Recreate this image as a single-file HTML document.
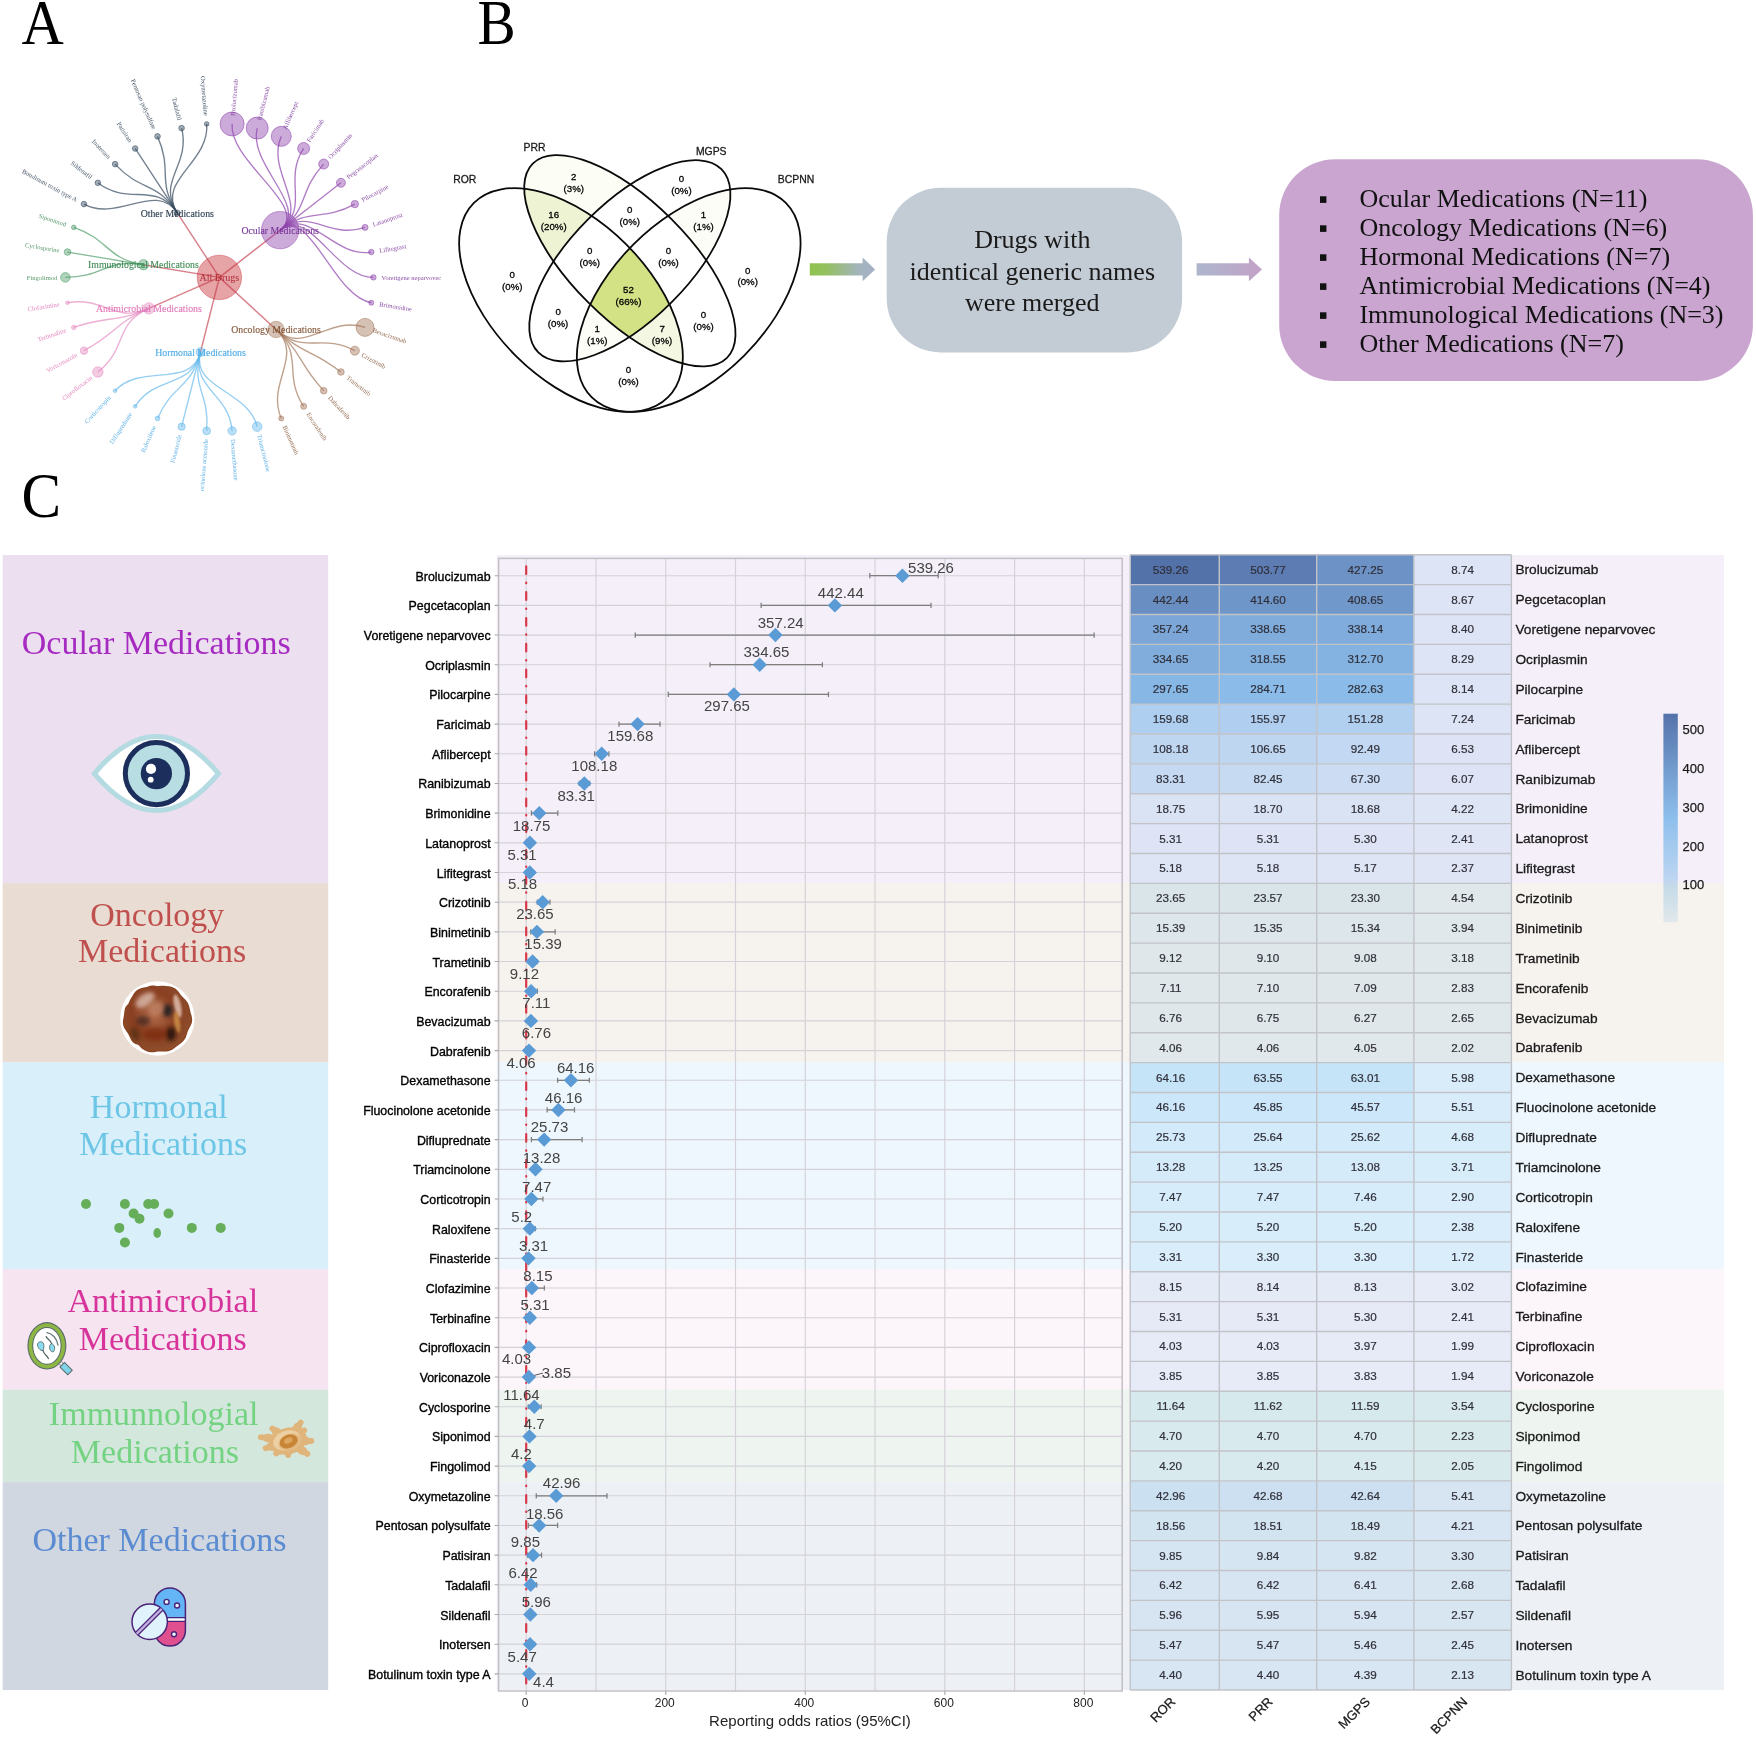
<!DOCTYPE html>
<html lang="en"><head><meta charset="utf-8"><title>Figure</title>
<style>html,body{margin:0;padding:0;background:#fff}svg{display:block;filter:blur(0.55px)}</style></head>
<body>
<svg width="1756" height="1739" viewBox="0 0 1756 1739">
<rect width="1756" height="1739" fill="#fff"/>
<defs><filter id="tblur" x="-5%" y="-5%" width="110%" height="110%"><feGaussianBlur stdDeviation="0.45"/></filter></defs>
<text transform="translate(21.6 43.5) scale(0.977 1.046)" font-family='"Liberation Serif", serif' font-size="60" fill="#000">A</text>
<text transform="translate(477.6 43.5) scale(0.955 1.046)" font-family='"Liberation Serif", serif' font-size="60" fill="#000">B</text>
<text transform="translate(21.6 516.5) scale(0.99 1.046)" font-family='"Liberation Serif", serif' font-size="60" fill="#000">C</text>
<defs><clipPath id="tclip"><rect x="0" y="50" width="460" height="440.8"/></clipPath></defs><g clip-path="url(#tclip)"><g filter="url(#tblur)"><line x1="219.4" y1="277.4" x2="280.16" y2="230.11" stroke="#c03644" stroke-opacity="0.62" stroke-width="1.45"/>
<line x1="219.4" y1="277.4" x2="276.05" y2="329.55" stroke="#c03644" stroke-opacity="0.62" stroke-width="1.45"/>
<line x1="219.4" y1="277.4" x2="200.5" y2="352.04" stroke="#c03644" stroke-opacity="0.62" stroke-width="1.45"/>
<line x1="219.4" y1="277.4" x2="148.89" y2="308.33" stroke="#c03644" stroke-opacity="0.62" stroke-width="1.45"/>
<line x1="219.4" y1="277.4" x2="143.45" y2="264.73" stroke="#c03644" stroke-opacity="0.62" stroke-width="1.45"/>
<line x1="219.4" y1="277.4" x2="177.28" y2="212.94" stroke="#c03644" stroke-opacity="0.62" stroke-width="1.45"/>
<path d="M280.16,230.11 C310.55,206.46 334.9,277.4 373.4,277.4" fill="none" stroke="#8e44ad" stroke-opacity="0.7" stroke-width="1.35"/>
<path d="M280.16,230.11 C310.55,206.46 333.32,296.41 371.3,302.75" fill="none" stroke="#8e44ad" stroke-opacity="0.7" stroke-width="1.35"/>
<path d="M276.05,329.55 C304.38,355.63 328.64,314.9 365.06,327.4" fill="none" stroke="#a3765a" stroke-opacity="0.7" stroke-width="1.35"/>
<path d="M276.05,329.55 C304.38,355.63 320.98,332.37 354.84,350.7" fill="none" stroke="#a3765a" stroke-opacity="0.7" stroke-width="1.35"/>
<path d="M276.05,329.55 C304.38,355.63 310.55,348.34 340.93,371.99" fill="none" stroke="#a3765a" stroke-opacity="0.7" stroke-width="1.35"/>
<path d="M276.05,329.55 C304.38,355.63 297.63,362.38 323.7,390.7" fill="none" stroke="#a3765a" stroke-opacity="0.7" stroke-width="1.35"/>
<path d="M276.05,329.55 C304.38,355.63 282.57,374.09 303.63,406.32" fill="none" stroke="#a3765a" stroke-opacity="0.7" stroke-width="1.35"/>
<path d="M276.05,329.55 C304.38,355.63 265.8,383.17 281.26,418.43" fill="none" stroke="#a3765a" stroke-opacity="0.7" stroke-width="1.35"/>
<path d="M200.5,352.04 C191.05,389.37 247.75,389.37 257.2,426.69" fill="none" stroke="#66b9ec" stroke-opacity="0.7" stroke-width="1.35"/>
<path d="M200.5,352.04 C191.05,389.37 228.94,392.51 232.12,430.87" fill="none" stroke="#66b9ec" stroke-opacity="0.7" stroke-width="1.35"/>
<path d="M200.5,352.04 C191.05,389.37 209.86,392.51 206.68,430.87" fill="none" stroke="#66b9ec" stroke-opacity="0.7" stroke-width="1.35"/>
<path d="M200.5,352.04 C191.05,389.37 191.05,389.37 181.6,426.69" fill="none" stroke="#66b9ec" stroke-opacity="0.7" stroke-width="1.35"/>
<path d="M200.5,352.04 C191.05,389.37 173,383.17 157.54,418.43" fill="none" stroke="#66b9ec" stroke-opacity="0.7" stroke-width="1.35"/>
<path d="M200.5,352.04 C191.05,389.37 156.23,374.09 135.17,406.32" fill="none" stroke="#66b9ec" stroke-opacity="0.7" stroke-width="1.35"/>
<path d="M200.5,352.04 C191.05,389.37 141.17,362.38 115.1,390.7" fill="none" stroke="#66b9ec" stroke-opacity="0.7" stroke-width="1.35"/>
<path d="M148.89,308.33 C113.63,323.8 128.25,348.34 97.87,371.99" fill="none" stroke="#e58cc2" stroke-opacity="0.7" stroke-width="1.35"/>
<path d="M148.89,308.33 C113.63,323.8 117.82,332.37 83.96,350.7" fill="none" stroke="#e58cc2" stroke-opacity="0.7" stroke-width="1.35"/>
<path d="M148.89,308.33 C113.63,323.8 110.16,314.9 73.74,327.4" fill="none" stroke="#e58cc2" stroke-opacity="0.7" stroke-width="1.35"/>
<path d="M148.89,308.33 C113.63,323.8 105.48,296.41 67.5,302.75" fill="none" stroke="#e58cc2" stroke-opacity="0.7" stroke-width="1.35"/>
<path d="M143.45,264.73 C105.48,258.39 103.9,277.4 65.4,277.4" fill="none" stroke="#4f9d69" stroke-opacity="0.7" stroke-width="1.35"/>
<path d="M143.45,264.73 C105.48,258.39 105.48,258.39 67.5,252.05" fill="none" stroke="#4f9d69" stroke-opacity="0.7" stroke-width="1.35"/>
<path d="M143.45,264.73 C105.48,258.39 110.16,239.9 73.74,227.4" fill="none" stroke="#4f9d69" stroke-opacity="0.7" stroke-width="1.35"/>
<path d="M177.28,212.94 C156.23,180.71 117.82,222.43 83.96,204.1" fill="none" stroke="#34495e" stroke-opacity="0.7" stroke-width="1.35"/>
<path d="M177.28,212.94 C156.23,180.71 128.25,206.46 97.87,182.81" fill="none" stroke="#34495e" stroke-opacity="0.7" stroke-width="1.35"/>
<path d="M177.28,212.94 C156.23,180.71 141.17,192.42 115.1,164.1" fill="none" stroke="#34495e" stroke-opacity="0.7" stroke-width="1.35"/>
<path d="M177.28,212.94 C156.23,180.71 156.23,180.71 135.17,148.48" fill="none" stroke="#34495e" stroke-opacity="0.7" stroke-width="1.35"/>
<path d="M177.28,212.94 C156.23,180.71 173,171.63 157.54,136.37" fill="none" stroke="#34495e" stroke-opacity="0.7" stroke-width="1.35"/>
<path d="M177.28,212.94 C156.23,180.71 191.05,165.43 181.6,128.11" fill="none" stroke="#34495e" stroke-opacity="0.7" stroke-width="1.35"/>
<path d="M177.28,212.94 C156.23,180.71 209.86,162.29 206.68,123.93" fill="none" stroke="#34495e" stroke-opacity="0.7" stroke-width="1.35"/>
<path d="M280.16,230.11 C310.55,206.46 228.94,162.29 232.12,123.93" fill="none" stroke="#8e44ad" stroke-opacity="0.7" stroke-width="1.35"/>
<path d="M280.16,230.11 C310.55,206.46 247.75,165.43 257.2,128.11" fill="none" stroke="#8e44ad" stroke-opacity="0.7" stroke-width="1.35"/>
<path d="M280.16,230.11 C310.55,206.46 265.8,171.63 281.26,136.37" fill="none" stroke="#8e44ad" stroke-opacity="0.7" stroke-width="1.35"/>
<path d="M280.16,230.11 C310.55,206.46 282.57,180.71 303.63,148.48" fill="none" stroke="#8e44ad" stroke-opacity="0.7" stroke-width="1.35"/>
<path d="M280.16,230.11 C310.55,206.46 297.63,192.42 323.7,164.1" fill="none" stroke="#8e44ad" stroke-opacity="0.7" stroke-width="1.35"/>
<path d="M280.16,230.11 C310.55,206.46 310.55,206.46 340.93,182.81" fill="none" stroke="#8e44ad" stroke-opacity="0.7" stroke-width="1.35"/>
<path d="M280.16,230.11 C310.55,206.46 320.98,222.43 354.84,204.1" fill="none" stroke="#8e44ad" stroke-opacity="0.7" stroke-width="1.35"/>
<path d="M280.16,230.11 C310.55,206.46 328.64,239.9 365.06,227.4" fill="none" stroke="#8e44ad" stroke-opacity="0.7" stroke-width="1.35"/>
<path d="M280.16,230.11 C310.55,206.46 333.32,258.39 371.3,252.05" fill="none" stroke="#8e44ad" stroke-opacity="0.7" stroke-width="1.35"/>
<circle cx="219.4" cy="277.4" r="22.2" fill="#c8323c" fill-opacity="0.45" stroke="#c8323c" stroke-opacity="0.55" stroke-width="0.8"/>
<circle cx="280.16" cy="230.11" r="18.7" fill="#8e44ad" fill-opacity="0.45" stroke="#8e44ad" stroke-opacity="0.6" stroke-width="0.8"/>
<circle cx="276.05" cy="329.55" r="8.2" fill="#a3765a" fill-opacity="0.45" stroke="#a3765a" stroke-opacity="0.6" stroke-width="0.8"/>
<circle cx="200.5" cy="352.04" r="4.5" fill="#66b9ec" fill-opacity="0.45" stroke="#66b9ec" stroke-opacity="0.6" stroke-width="0.8"/>
<circle cx="148.89" cy="308.33" r="5.7" fill="#e58cc2" fill-opacity="0.45" stroke="#e58cc2" stroke-opacity="0.6" stroke-width="0.8"/>
<circle cx="143.45" cy="264.73" r="5.2" fill="#4f9d69" fill-opacity="0.45" stroke="#4f9d69" stroke-opacity="0.6" stroke-width="0.8"/>
<circle cx="177.28" cy="212.94" r="3" fill="#34495e" fill-opacity="0.45" stroke="#34495e" stroke-opacity="0.6" stroke-width="0.8"/>
<circle cx="373.4" cy="277.4" r="2.7" fill="#8e44ad" fill-opacity="0.45" stroke="#8e44ad" stroke-opacity="0.7" stroke-width="0.8"/>
<circle cx="371.3" cy="302.75" r="2.5" fill="#8e44ad" fill-opacity="0.45" stroke="#8e44ad" stroke-opacity="0.7" stroke-width="0.8"/>
<circle cx="365.06" cy="327.4" r="9" fill="#a3765a" fill-opacity="0.45" stroke="#a3765a" stroke-opacity="0.7" stroke-width="0.8"/>
<circle cx="354.84" cy="350.7" r="4.5" fill="#a3765a" fill-opacity="0.45" stroke="#a3765a" stroke-opacity="0.7" stroke-width="0.8"/>
<circle cx="340.93" cy="371.99" r="3.3" fill="#a3765a" fill-opacity="0.45" stroke="#a3765a" stroke-opacity="0.7" stroke-width="0.8"/>
<circle cx="323.7" cy="390.7" r="3.3" fill="#a3765a" fill-opacity="0.45" stroke="#a3765a" stroke-opacity="0.7" stroke-width="0.8"/>
<circle cx="303.63" cy="406.32" r="3" fill="#a3765a" fill-opacity="0.45" stroke="#a3765a" stroke-opacity="0.7" stroke-width="0.8"/>
<circle cx="281.26" cy="418.43" r="2.5" fill="#a3765a" fill-opacity="0.45" stroke="#a3765a" stroke-opacity="0.7" stroke-width="0.8"/>
<circle cx="257.2" cy="426.69" r="4.8" fill="#66b9ec" fill-opacity="0.45" stroke="#66b9ec" stroke-opacity="0.7" stroke-width="0.8"/>
<circle cx="232.12" cy="430.87" r="4.2" fill="#66b9ec" fill-opacity="0.45" stroke="#66b9ec" stroke-opacity="0.7" stroke-width="0.8"/>
<circle cx="206.68" cy="430.87" r="3.9" fill="#66b9ec" fill-opacity="0.45" stroke="#66b9ec" stroke-opacity="0.7" stroke-width="0.8"/>
<circle cx="181.6" cy="426.69" r="3.6" fill="#66b9ec" fill-opacity="0.45" stroke="#66b9ec" stroke-opacity="0.7" stroke-width="0.8"/>
<circle cx="157.54" cy="418.43" r="2.4" fill="#66b9ec" fill-opacity="0.45" stroke="#66b9ec" stroke-opacity="0.7" stroke-width="0.8"/>
<circle cx="135.17" cy="406.32" r="1.8" fill="#66b9ec" fill-opacity="0.45" stroke="#66b9ec" stroke-opacity="0.7" stroke-width="0.8"/>
<circle cx="115.1" cy="390.7" r="1.8" fill="#66b9ec" fill-opacity="0.45" stroke="#66b9ec" stroke-opacity="0.7" stroke-width="0.8"/>
<circle cx="97.87" cy="371.99" r="5.2" fill="#e58cc2" fill-opacity="0.45" stroke="#e58cc2" stroke-opacity="0.7" stroke-width="0.8"/>
<circle cx="83.96" cy="350.7" r="3.7" fill="#e58cc2" fill-opacity="0.45" stroke="#e58cc2" stroke-opacity="0.7" stroke-width="0.8"/>
<circle cx="73.74" cy="327.4" r="2.2" fill="#e58cc2" fill-opacity="0.45" stroke="#e58cc2" stroke-opacity="0.7" stroke-width="0.8"/>
<circle cx="67.5" cy="302.75" r="1.8" fill="#e58cc2" fill-opacity="0.45" stroke="#e58cc2" stroke-opacity="0.7" stroke-width="0.8"/>
<circle cx="65.4" cy="277.4" r="4.8" fill="#4f9d69" fill-opacity="0.45" stroke="#4f9d69" stroke-opacity="0.7" stroke-width="0.8"/>
<circle cx="67.5" cy="252.05" r="3.3" fill="#4f9d69" fill-opacity="0.45" stroke="#4f9d69" stroke-opacity="0.7" stroke-width="0.8"/>
<circle cx="73.74" cy="227.4" r="2.3" fill="#4f9d69" fill-opacity="0.45" stroke="#4f9d69" stroke-opacity="0.7" stroke-width="0.8"/>
<circle cx="83.96" cy="204.1" r="2.8" fill="#34495e" fill-opacity="0.45" stroke="#34495e" stroke-opacity="0.7" stroke-width="0.8"/>
<circle cx="97.87" cy="182.81" r="2.8" fill="#34495e" fill-opacity="0.45" stroke="#34495e" stroke-opacity="0.7" stroke-width="0.8"/>
<circle cx="115.1" cy="164.1" r="2.8" fill="#34495e" fill-opacity="0.45" stroke="#34495e" stroke-opacity="0.7" stroke-width="0.8"/>
<circle cx="135.17" cy="148.48" r="2.8" fill="#34495e" fill-opacity="0.45" stroke="#34495e" stroke-opacity="0.7" stroke-width="0.8"/>
<circle cx="157.54" cy="136.37" r="2.8" fill="#34495e" fill-opacity="0.45" stroke="#34495e" stroke-opacity="0.7" stroke-width="0.8"/>
<circle cx="181.6" cy="128.11" r="2.8" fill="#34495e" fill-opacity="0.45" stroke="#34495e" stroke-opacity="0.7" stroke-width="0.8"/>
<circle cx="206.68" cy="123.93" r="2.3" fill="#34495e" fill-opacity="0.45" stroke="#34495e" stroke-opacity="0.7" stroke-width="0.8"/>
<circle cx="232.12" cy="123.93" r="12" fill="#8e44ad" fill-opacity="0.45" stroke="#8e44ad" stroke-opacity="0.7" stroke-width="0.8"/>
<circle cx="257.2" cy="128.11" r="11" fill="#8e44ad" fill-opacity="0.45" stroke="#8e44ad" stroke-opacity="0.7" stroke-width="0.8"/>
<circle cx="281.26" cy="136.37" r="10" fill="#8e44ad" fill-opacity="0.45" stroke="#8e44ad" stroke-opacity="0.7" stroke-width="0.8"/>
<circle cx="303.63" cy="148.48" r="6" fill="#8e44ad" fill-opacity="0.45" stroke="#8e44ad" stroke-opacity="0.7" stroke-width="0.8"/>
<circle cx="323.7" cy="164.1" r="5" fill="#8e44ad" fill-opacity="0.45" stroke="#8e44ad" stroke-opacity="0.7" stroke-width="0.8"/>
<circle cx="340.93" cy="182.81" r="4.5" fill="#8e44ad" fill-opacity="0.45" stroke="#8e44ad" stroke-opacity="0.7" stroke-width="0.8"/>
<circle cx="354.84" cy="204.1" r="3.7" fill="#8e44ad" fill-opacity="0.45" stroke="#8e44ad" stroke-opacity="0.7" stroke-width="0.8"/>
<circle cx="365.06" cy="227.4" r="3" fill="#8e44ad" fill-opacity="0.45" stroke="#8e44ad" stroke-opacity="0.7" stroke-width="0.8"/>
<circle cx="371.3" cy="252.05" r="2.7" fill="#8e44ad" fill-opacity="0.45" stroke="#8e44ad" stroke-opacity="0.7" stroke-width="0.8"/>
<text x="219.4" y="280.6" text-anchor="middle" font-family='"Liberation Serif", serif' font-size="10" fill="#a81e28" fill-opacity="0.9">All Drugs</text>
<text x="280.16" y="233.71" text-anchor="middle" font-family='"Liberation Serif", serif' font-size="9.8" fill="#742f94" fill-opacity="0.95" stroke="#742f94" stroke-width="0.2" stroke-opacity="0.6">Ocular Medications</text>
<text x="276.05" y="333.15" text-anchor="middle" font-family='"Liberation Serif", serif' font-size="9.8" fill="#7f4f30" fill-opacity="0.95" stroke="#7f4f30" stroke-width="0.2" stroke-opacity="0.6">Oncology Medications</text>
<text x="200.5" y="355.64" text-anchor="middle" font-family='"Liberation Serif", serif' font-size="9.8" fill="#45a6e4" fill-opacity="0.95" stroke="#45a6e4" stroke-width="0.2" stroke-opacity="0.6">Hormonal Medications</text>
<text x="148.89" y="311.93" text-anchor="middle" font-family='"Liberation Serif", serif' font-size="9.8" fill="#e070b4" fill-opacity="0.95" stroke="#e070b4" stroke-width="0.2" stroke-opacity="0.6">Antimicrobial Medications</text>
<text x="143.45" y="268.33" text-anchor="middle" font-family='"Liberation Serif", serif' font-size="9.8" fill="#38864f" fill-opacity="0.95" stroke="#38864f" stroke-width="0.2" stroke-opacity="0.6">Immunological Medications</text>
<text x="177.28" y="216.54" text-anchor="middle" font-family='"Liberation Serif", serif' font-size="9.8" fill="#22344a" fill-opacity="0.95" stroke="#22344a" stroke-width="0.2" stroke-opacity="0.6">Other Medications</text>
<text transform="translate(381.6 277.4) rotate(0)" y="2.1" text-anchor="start" font-family='"Liberation Serif", serif' font-size="6.5" fill="#742f94" fill-opacity="0.85">Voretigene neparvovec</text>
<text transform="translate(379.39 304.1) rotate(9.47)" y="2.1" text-anchor="start" font-family='"Liberation Serif", serif' font-size="6.5" fill="#742f94" fill-opacity="0.85">Brimonidine</text>
<text transform="translate(372.81 330.07) rotate(18.95)" y="2.1" text-anchor="start" font-family='"Liberation Serif", serif' font-size="6.5" fill="#7f4f30" fill-opacity="0.85">Bevacizumab</text>
<text transform="translate(362.05 354.6) rotate(28.42)" y="2.1" text-anchor="start" font-family='"Liberation Serif", serif' font-size="6.5" fill="#7f4f30" fill-opacity="0.85">Crizotinib</text>
<text transform="translate(347.4 377.03) rotate(37.89)" y="2.1" text-anchor="start" font-family='"Liberation Serif", serif' font-size="6.5" fill="#7f4f30" fill-opacity="0.85">Trametinib</text>
<text transform="translate(329.26 396.73) rotate(47.37)" y="2.1" text-anchor="start" font-family='"Liberation Serif", serif' font-size="6.5" fill="#7f4f30" fill-opacity="0.85">Dabrafenib</text>
<text transform="translate(308.11 413.19) rotate(56.84)" y="2.1" text-anchor="start" font-family='"Liberation Serif", serif' font-size="6.5" fill="#7f4f30" fill-opacity="0.85">Encorafenib</text>
<text transform="translate(284.55 425.94) rotate(66.32)" y="2.1" text-anchor="start" font-family='"Liberation Serif", serif' font-size="6.5" fill="#7f4f30" fill-opacity="0.85">Binimetinib</text>
<text transform="translate(259.22 434.64) rotate(75.79)" y="2.1" text-anchor="start" font-family='"Liberation Serif", serif' font-size="6.5" fill="#45a6e4" fill-opacity="0.85">Triamcinolone</text>
<text transform="translate(232.79 439.05) rotate(85.26)" y="2.1" text-anchor="start" font-family='"Liberation Serif", serif' font-size="6.5" fill="#45a6e4" fill-opacity="0.85">Dexamethasone</text>
<text transform="translate(206.01 439.05) rotate(-85.26)" y="2.1" text-anchor="end" font-family='"Liberation Serif", serif' font-size="6.5" fill="#45a6e4" fill-opacity="0.85">Fluocinolone acetonide</text>
<text transform="translate(179.58 434.64) rotate(-75.79)" y="2.1" text-anchor="end" font-family='"Liberation Serif", serif' font-size="6.5" fill="#45a6e4" fill-opacity="0.85">Finasteride</text>
<text transform="translate(154.25 425.94) rotate(-66.32)" y="2.1" text-anchor="end" font-family='"Liberation Serif", serif' font-size="6.5" fill="#45a6e4" fill-opacity="0.85">Raloxifene</text>
<text transform="translate(130.69 413.19) rotate(-56.84)" y="2.1" text-anchor="end" font-family='"Liberation Serif", serif' font-size="6.5" fill="#45a6e4" fill-opacity="0.85">Difluprednate</text>
<text transform="translate(109.54 396.73) rotate(-47.37)" y="2.1" text-anchor="end" font-family='"Liberation Serif", serif' font-size="6.5" fill="#45a6e4" fill-opacity="0.85">Corticotropin</text>
<text transform="translate(91.4 377.03) rotate(-37.89)" y="2.1" text-anchor="end" font-family='"Liberation Serif", serif' font-size="6.5" fill="#e070b4" fill-opacity="0.85">Ciprofloxacin</text>
<text transform="translate(76.75 354.6) rotate(-28.42)" y="2.1" text-anchor="end" font-family='"Liberation Serif", serif' font-size="6.5" fill="#e070b4" fill-opacity="0.85">Voriconazole</text>
<text transform="translate(65.99 330.07) rotate(-18.95)" y="2.1" text-anchor="end" font-family='"Liberation Serif", serif' font-size="6.5" fill="#e070b4" fill-opacity="0.85">Terbinafine</text>
<text transform="translate(59.41 304.1) rotate(-9.47)" y="2.1" text-anchor="end" font-family='"Liberation Serif", serif' font-size="6.5" fill="#e070b4" fill-opacity="0.85">Clofazimine</text>
<text transform="translate(57.2 277.4) rotate(0)" y="2.1" text-anchor="end" font-family='"Liberation Serif", serif' font-size="6.5" fill="#38864f" fill-opacity="0.85">Fingolimod</text>
<text transform="translate(59.41 250.7) rotate(9.47)" y="2.1" text-anchor="end" font-family='"Liberation Serif", serif' font-size="6.5" fill="#38864f" fill-opacity="0.85">Cyclosporine</text>
<text transform="translate(65.99 224.73) rotate(18.95)" y="2.1" text-anchor="end" font-family='"Liberation Serif", serif' font-size="6.5" fill="#38864f" fill-opacity="0.85">Siponimod</text>
<text transform="translate(76.75 200.2) rotate(28.42)" y="2.1" text-anchor="end" font-family='"Liberation Serif", serif' font-size="6.5" fill="#22344a" fill-opacity="0.85">Botulinum toxin type A</text>
<text transform="translate(91.4 177.77) rotate(37.89)" y="2.1" text-anchor="end" font-family='"Liberation Serif", serif' font-size="6.5" fill="#22344a" fill-opacity="0.85">Sildenafil</text>
<text transform="translate(109.54 158.07) rotate(47.37)" y="2.1" text-anchor="end" font-family='"Liberation Serif", serif' font-size="6.5" fill="#22344a" fill-opacity="0.85">Inotersen</text>
<text transform="translate(130.69 141.61) rotate(56.84)" y="2.1" text-anchor="end" font-family='"Liberation Serif", serif' font-size="6.5" fill="#22344a" fill-opacity="0.85">Patisiran</text>
<text transform="translate(154.25 128.86) rotate(66.32)" y="2.1" text-anchor="end" font-family='"Liberation Serif", serif' font-size="6.5" fill="#22344a" fill-opacity="0.85">Pentosan polysulfate</text>
<text transform="translate(179.58 120.16) rotate(75.79)" y="2.1" text-anchor="end" font-family='"Liberation Serif", serif' font-size="6.5" fill="#22344a" fill-opacity="0.85">Tadalafil</text>
<text transform="translate(206.01 115.75) rotate(85.26)" y="2.1" text-anchor="end" font-family='"Liberation Serif", serif' font-size="6.5" fill="#22344a" fill-opacity="0.85">Oxymetazoline</text>
<text transform="translate(232.79 115.75) rotate(274.74)" y="2.1" text-anchor="start" font-family='"Liberation Serif", serif' font-size="6.5" fill="#742f94" fill-opacity="0.85">Brolucizumab</text>
<text transform="translate(259.22 120.16) rotate(284.21)" y="2.1" text-anchor="start" font-family='"Liberation Serif", serif' font-size="6.5" fill="#742f94" fill-opacity="0.85">Ranibizumab</text>
<text transform="translate(284.55 128.86) rotate(293.68)" y="2.1" text-anchor="start" font-family='"Liberation Serif", serif' font-size="6.5" fill="#742f94" fill-opacity="0.85">Aflibercept</text>
<text transform="translate(308.11 141.61) rotate(303.16)" y="2.1" text-anchor="start" font-family='"Liberation Serif", serif' font-size="6.5" fill="#742f94" fill-opacity="0.85">Faricimab</text>
<text transform="translate(329.26 158.07) rotate(312.63)" y="2.1" text-anchor="start" font-family='"Liberation Serif", serif' font-size="6.5" fill="#742f94" fill-opacity="0.85">Ocriplasmin</text>
<text transform="translate(347.4 177.77) rotate(322.11)" y="2.1" text-anchor="start" font-family='"Liberation Serif", serif' font-size="6.5" fill="#742f94" fill-opacity="0.85">Pegcetacoplan</text>
<text transform="translate(362.05 200.2) rotate(331.58)" y="2.1" text-anchor="start" font-family='"Liberation Serif", serif' font-size="6.5" fill="#742f94" fill-opacity="0.85">Pilocarpine</text>
<text transform="translate(372.81 224.73) rotate(341.05)" y="2.1" text-anchor="start" font-family='"Liberation Serif", serif' font-size="6.5" fill="#742f94" fill-opacity="0.85">Latanoprost</text>
<text transform="translate(379.39 250.7) rotate(350.53)" y="2.1" text-anchor="start" font-family='"Liberation Serif", serif' font-size="6.5" fill="#742f94" fill-opacity="0.85">Lifitegrast</text></g></g>
<path d="M667.61,300.54 L666.1,297.61 L664.52,294.68 L662.89,291.76 L661.19,288.84 L659.42,285.93 L657.6,283.03 L655.72,280.15 L653.78,277.27 L651.78,274.41 L649.73,271.57 L647.62,268.75 L645.46,265.95 L643.25,263.17 L640.99,260.42 L638.68,257.7 L636.33,255 L633.93,252.34 L631.49,249.7 L629.85,247.99 L628.21,249.7 L625.77,252.34 L623.37,255 L621.02,257.7 L618.71,260.42 L616.45,263.17 L614.24,265.95 L612.08,268.75 L609.97,271.57 L607.92,274.41 L605.92,277.27 L603.98,280.15 L602.1,283.03 L600.28,285.93 L598.51,288.84 L596.81,291.76 L595.18,294.68 L593.6,297.61 L592.09,300.54 L590.65,303.47 L590.22,304.39 L590.79,304.95 L593.37,307.45 L595.98,309.91 L598.61,312.34 L601.26,314.74 L603.93,317.1 L606.62,319.42 L609.33,321.7 L612.05,323.94 L614.78,326.14 L617.53,328.29 L620.28,330.39 L623.03,332.45 L625.8,334.46 L628.56,336.42 L629.31,336.93 L630.63,336.06 L633.26,334.29 L635.89,332.47 L638.52,330.6 L641.14,328.68 L643.75,326.71 L646.35,324.7 L648.94,322.65 L651.52,320.55 L654.09,318.41 L656.63,316.23 L659.16,314.02 L661.67,311.76 L664.16,309.48 L666.62,307.16 L669.06,304.8 L669.48,304.39 L669.05,303.47 L667.61,300.54Z" fill="#d3e285"/>
<path d="M588,213.43 L585.1,211.61 L582.19,209.84 L579.27,208.14 L576.35,206.51 L573.42,204.93 L570.49,203.42 L567.56,201.98 L564.64,200.61 L561.72,199.3 L558.8,198.06 L555.9,196.89 L553,195.8 L550.12,194.77 L547.25,193.82 L544.39,192.94 L541.56,192.13 L538.75,191.4 L535.95,190.74 L533.18,190.15 L530.44,189.64 L527.73,189.21 L525.04,188.85 L524.2,188.77 L524.2,189.01 L524.28,191.06 L524.43,193.17 L524.65,195.31 L524.94,197.51 L525.3,199.74 L525.74,202.02 L526.24,204.34 L526.82,206.7 L527.47,209.09 L528.19,211.52 L528.97,213.98 L529.83,216.48 L530.76,219.01 L531.75,221.56 L532.81,224.14 L533.94,226.75 L535.13,229.38 L536.39,232.03 L537.71,234.7 L539.1,237.39 L540.54,240.09 L542.05,242.81 L543.62,245.55 L545.25,248.29 L546.93,251.04 L548.68,253.8 L550.48,256.56 L552.33,259.32 L553.72,261.34 L554.59,260.02 L556.36,257.39 L558.18,254.76 L560.05,252.13 L561.97,249.51 L563.94,246.9 L565.95,244.3 L568,241.71 L570.1,239.13 L572.24,236.56 L574.42,234.02 L576.63,231.49 L578.89,228.98 L581.17,226.49 L583.49,224.03 L585.85,221.59 L588.23,219.18 L590.64,216.8 L591.65,215.83 L590.88,215.31 L588,213.43Z" fill="#eef3d4"/>
<path d="M682.84,356.4 L682.79,353.85 L682.66,351.26 L682.46,348.64 L682.18,345.99 L681.82,343.3 L681.39,340.59 L680.88,337.85 L680.29,335.08 L679.63,332.28 L678.9,329.47 L678.09,326.64 L677.21,323.78 L676.26,320.91 L675.23,318.03 L674.14,315.13 L672.97,312.23 L671.73,309.31 L670.42,306.39 L669.48,304.39 L669.06,304.8 L666.62,307.16 L664.16,309.48 L661.67,311.76 L659.16,314.02 L656.63,316.23 L654.09,318.41 L651.52,320.55 L648.94,322.65 L646.35,324.7 L643.75,326.71 L641.14,328.68 L638.52,330.6 L635.89,332.47 L633.26,334.29 L630.63,336.06 L629.31,336.93 L631.33,338.32 L634.09,340.17 L636.85,341.97 L639.61,343.72 L642.36,345.4 L645.1,347.03 L647.84,348.6 L650.56,350.11 L653.26,351.55 L655.95,352.94 L658.62,354.26 L661.27,355.52 L663.9,356.71 L666.51,357.84 L669.09,358.9 L671.64,359.89 L674.17,360.82 L676.67,361.68 L679.13,362.46 L681.56,363.18 L682.56,363.45 L682.71,361.38 L682.81,358.91 L682.84,356.4Z" fill="#f4f7e2"/>
<path d="M529.77,167.25 L528.92,168.57 L528.13,169.95 L527.42,171.39 L526.78,172.9 L526.2,174.46 L525.7,176.09 L525.27,177.77 L524.91,179.51 L524.63,181.3 L524.41,183.15 L524.27,185.05 L524.2,187.01 L524.2,188.77 L525.04,188.85 L527.73,189.21 L530.44,189.64 L533.18,190.15 L535.95,190.74 L538.75,191.4 L541.56,192.13 L544.39,192.94 L547.25,193.82 L550.12,194.77 L553,195.8 L555.9,196.89 L558.8,198.06 L561.72,199.3 L564.64,200.61 L567.56,201.98 L570.49,203.42 L573.42,204.93 L576.35,206.51 L579.27,208.14 L582.19,209.84 L585.1,211.61 L588,213.43 L590.88,215.31 L591.65,215.83 L593.08,214.44 L595.54,212.12 L598.03,209.84 L600.54,207.58 L603.07,205.37 L605.61,203.19 L608.18,201.05 L610.76,198.95 L613.35,196.9 L615.95,194.89 L618.56,192.92 L621.18,191 L623.81,189.13 L626.44,187.31 L629.07,185.54 L630.39,184.67 L628.37,183.28 L625.61,181.43 L622.85,179.63 L620.09,177.88 L617.34,176.2 L614.6,174.57 L611.86,173 L609.14,171.49 L606.44,170.05 L603.75,168.66 L601.08,167.34 L598.43,166.08 L595.8,164.89 L593.19,163.76 L590.61,162.7 L588.06,161.71 L585.53,160.78 L583.03,159.92 L580.57,159.14 L578.14,158.42 L575.75,157.77 L573.39,157.19 L571.07,156.69 L568.79,156.25 L566.56,155.89 L564.36,155.6 L562.22,155.38 L560.11,155.23 L558.06,155.15 L556.06,155.15 L554.1,155.22 L552.2,155.36 L550.35,155.58 L548.56,155.86 L546.82,156.22 L545.14,156.65 L543.51,157.15 L541.95,157.73 L540.44,158.37 L539,159.08 L537.62,159.87 L536.3,160.72 L535.05,161.64 L533.86,162.63 L532.74,163.69 L531.68,164.81 L530.69,166 L529.77,167.25Z" fill="#fcfdf5"/>
<path d="M706.84,258.95 L708.5,256.31 L710.12,253.69 L711.68,251.06 L713.18,248.44 L714.63,245.84 L716.01,243.24 L717.34,240.65 L718.61,238.08 L719.82,235.52 L720.96,232.98 L722.05,230.46 L723.07,227.96 L724.03,225.48 L724.92,223.03 L725.75,220.6 L726.51,218.2 L727.2,215.83 L727.83,213.49 L728.39,211.19 L728.88,208.91 L729.31,206.68 L729.67,204.47 L729.96,202.31 L730.18,200.19 L730.33,198.11 L730.41,196.07 L730.43,194.08 L730.37,192.13 L730.25,190.23 L730.17,189.5 L729.26,189.64 L726.52,190.15 L723.75,190.74 L720.95,191.4 L718.14,192.13 L715.31,192.94 L712.45,193.82 L709.58,194.77 L706.7,195.8 L703.8,196.89 L700.9,198.06 L697.98,199.3 L695.06,200.61 L692.14,201.98 L689.21,203.42 L686.28,204.93 L683.35,206.51 L680.43,208.14 L677.51,209.84 L674.6,211.61 L671.7,213.43 L668.82,215.31 L668.06,215.82 L668.91,216.65 L671.47,219.18 L674,221.74 L676.5,224.32 L678.96,226.93 L681.39,229.56 L683.79,232.21 L686.15,234.88 L688.47,237.57 L690.75,240.28 L692.99,243 L695.19,245.73 L697.34,248.48 L699.44,251.23 L701.5,253.98 L703.51,256.75 L705.47,259.51 L705.98,260.26 L706.84,258.95Z" fill="#fdfdf8"/>
<path d="M589.28,306.39 L587.97,309.31 L586.73,312.23 L585.56,315.13 L584.47,318.03 L583.44,320.91 L582.49,323.78 L581.61,326.64 L580.8,329.47 L580.07,332.28 L579.41,335.08 L578.82,337.85 L578.31,340.59 L577.88,343.3 L577.52,345.99 L577.24,348.64 L577.04,351.26 L576.91,353.85 L576.86,356.4 L576.89,358.91 L576.93,360.03 L577.96,359.83 L580.24,359.34 L582.54,358.78 L584.88,358.15 L587.25,357.46 L589.65,356.7 L592.08,355.87 L594.53,354.98 L597.01,354.02 L599.51,353 L602.03,351.91 L604.57,350.77 L607.13,349.56 L609.7,348.29 L612.29,346.96 L614.89,345.58 L617.49,344.13 L620.11,342.63 L622.74,341.07 L625.36,339.45 L628,337.79 L629.31,336.93 L628.56,336.42 L625.8,334.46 L623.03,332.45 L620.28,330.39 L617.53,328.29 L614.78,326.14 L612.05,323.94 L609.33,321.7 L606.62,319.42 L603.93,317.1 L601.26,314.74 L598.61,312.34 L595.98,309.91 L593.37,307.45 L590.79,304.95 L590.22,304.39 L589.28,306.39Z" fill="#fdfdf8"/>
<ellipse cx="570.99" cy="300.04" rx="137.34" ry="78.48" transform="rotate(-135 570.99 300.04)" fill="none" stroke="#0a0a0a" stroke-width="1.8"/>
<ellipse cx="629.85" cy="260.8" rx="137.34" ry="58.86" transform="rotate(-135 629.85 260.8)" fill="none" stroke="#0a0a0a" stroke-width="1.8"/>
<ellipse cx="629.85" cy="260.8" rx="129.49" ry="58.86" transform="rotate(-45 629.85 260.8)" fill="none" stroke="#0a0a0a" stroke-width="1.8"/>
<ellipse cx="688.71" cy="300.04" rx="137.34" ry="78.48" transform="rotate(-45 688.71 300.04)" fill="none" stroke="#0a0a0a" stroke-width="1.8"/>
<text x="534.6" y="150.6" text-anchor="middle" font-family='"Liberation Sans", sans-serif' font-size="10.4" fill="#1a1a1a" stroke="#1a1a1a" stroke-width="0.3">PRR</text>
<text x="711.2" y="154.7" text-anchor="middle" font-family='"Liberation Sans", sans-serif' font-size="10.4" fill="#1a1a1a" stroke="#1a1a1a" stroke-width="0.3">MGPS</text>
<text x="464.8" y="183" text-anchor="middle" font-family='"Liberation Sans", sans-serif' font-size="10.4" fill="#1a1a1a" stroke="#1a1a1a" stroke-width="0.3">ROR</text>
<text x="796" y="183" text-anchor="middle" font-family='"Liberation Sans", sans-serif' font-size="10.4" fill="#1a1a1a" stroke="#1a1a1a" stroke-width="0.3">BCPNN</text>
<text text-anchor="middle" font-family='"Liberation Sans", sans-serif' font-size="9.7" fill="#000" stroke="#000" stroke-width="0.3"><tspan x="573.8" y="179.7">2</tspan><tspan x="573.8" y="191.5">(3%)</tspan></text>
<text text-anchor="middle" font-family='"Liberation Sans", sans-serif' font-size="9.7" fill="#000" stroke="#000" stroke-width="0.3"><tspan x="681.4" y="181.9">0</tspan><tspan x="681.4" y="193.7">(0%)</tspan></text>
<text text-anchor="middle" font-family='"Liberation Sans", sans-serif' font-size="9.7" fill="#000" stroke="#000" stroke-width="0.3"><tspan x="553.7" y="217.8">16</tspan><tspan x="553.7" y="229.6">(20%)</tspan></text>
<text text-anchor="middle" font-family='"Liberation Sans", sans-serif' font-size="9.7" fill="#000" stroke="#000" stroke-width="0.3"><tspan x="629.8" y="213.4">0</tspan><tspan x="629.8" y="225.2">(0%)</tspan></text>
<text text-anchor="middle" font-family='"Liberation Sans", sans-serif' font-size="9.7" fill="#000" stroke="#000" stroke-width="0.3"><tspan x="703.5" y="217.8">1</tspan><tspan x="703.5" y="229.6">(1%)</tspan></text>
<text text-anchor="middle" font-family='"Liberation Sans", sans-serif' font-size="9.7" fill="#000" stroke="#000" stroke-width="0.3"><tspan x="512.3" y="278.2">0</tspan><tspan x="512.3" y="290">(0%)</tspan></text>
<text text-anchor="middle" font-family='"Liberation Sans", sans-serif' font-size="9.7" fill="#000" stroke="#000" stroke-width="0.3"><tspan x="589.8" y="254.2">0</tspan><tspan x="589.8" y="266">(0%)</tspan></text>
<text text-anchor="middle" font-family='"Liberation Sans", sans-serif' font-size="9.7" fill="#000" stroke="#000" stroke-width="0.3"><tspan x="668.5" y="254.2">0</tspan><tspan x="668.5" y="266">(0%)</tspan></text>
<text text-anchor="middle" font-family='"Liberation Sans", sans-serif' font-size="9.7" fill="#000" stroke="#000" stroke-width="0.3"><tspan x="747.7" y="273.5">0</tspan><tspan x="747.7" y="285.3">(0%)</tspan></text>
<text text-anchor="middle" font-family='"Liberation Sans", sans-serif' font-size="9.7" fill="#000" stroke="#000" stroke-width="0.3"><tspan x="628.5" y="293.1">52</tspan><tspan x="628.5" y="304.9">(66%)</tspan></text>
<text text-anchor="middle" font-family='"Liberation Sans", sans-serif' font-size="9.7" fill="#000" stroke="#000" stroke-width="0.3"><tspan x="558.1" y="314.9">0</tspan><tspan x="558.1" y="326.7">(0%)</tspan></text>
<text text-anchor="middle" font-family='"Liberation Sans", sans-serif' font-size="9.7" fill="#000" stroke="#000" stroke-width="0.3"><tspan x="703.5" y="317.7">0</tspan><tspan x="703.5" y="329.5">(0%)</tspan></text>
<text text-anchor="middle" font-family='"Liberation Sans", sans-serif' font-size="9.7" fill="#000" stroke="#000" stroke-width="0.3"><tspan x="597.3" y="332.3">1</tspan><tspan x="597.3" y="344.1">(1%)</tspan></text>
<text text-anchor="middle" font-family='"Liberation Sans", sans-serif' font-size="9.7" fill="#000" stroke="#000" stroke-width="0.3"><tspan x="662.1" y="332.3">7</tspan><tspan x="662.1" y="344.1">(9%)</tspan></text>
<text text-anchor="middle" font-family='"Liberation Sans", sans-serif' font-size="9.7" fill="#000" stroke="#000" stroke-width="0.3"><tspan x="628.5" y="372.9">0</tspan><tspan x="628.5" y="384.7">(0%)</tspan></text>
<defs>
<linearGradient id="ag1" x1="0" x2="1" y1="0" y2="0"><stop offset="0" stop-color="#8fc24f"/><stop offset="0.25" stop-color="#94c060"/><stop offset="0.75" stop-color="#a3b4bd"/><stop offset="1" stop-color="#a6b1c6"/></linearGradient>
<linearGradient id="ag2" x1="0" x2="1" y1="0" y2="0"><stop offset="0" stop-color="#adb6cc"/><stop offset="1" stop-color="#c3a2c8"/></linearGradient>
</defs>
<path d="M809.8,263.3 L862.6,263.3 L862.6,257.5 L875.1,269.4 L862.6,281.3 L862.6,275.5 L809.8,275.5 Z" fill="url(#ag1)"/>
<path d="M1196.6,263.3 L1248.9,263.3 L1248.9,257.5 L1262,269.4 L1248.9,281.3 L1248.9,275.5 L1196.6,275.5 Z" fill="url(#ag2)"/>
<rect x="886.7" y="187.8" width="295.4" height="164.6" rx="54" ry="54" fill="#c3ccd5"/>
<text x="1032.3" y="248.2" text-anchor="middle" font-family='"Liberation Serif", serif' font-size="26" fill="#1a1a1a">Drugs with</text>
<text x="1032.3" y="279.6" text-anchor="middle" font-family='"Liberation Serif", serif' font-size="26" fill="#1a1a1a">identical generic names</text>
<text x="1032.3" y="310.6" text-anchor="middle" font-family='"Liberation Serif", serif' font-size="26" fill="#1a1a1a">were merged</text>
<rect x="1279.2" y="159.2" width="473.7" height="221.8" rx="56" ry="56" fill="#c9a5d0"/>
<rect x="1320" y="196.3" width="6.4" height="6.6" fill="#111"/>
<text x="1359.4" y="207.3" font-family='"Liberation Serif", serif' font-size="26" fill="#111">Ocular Medications (N=11)</text>
<rect x="1320" y="225.3" width="6.4" height="6.6" fill="#111"/>
<text x="1359.4" y="236.3" font-family='"Liberation Serif", serif' font-size="26" fill="#111">Oncology Medications (N=6)</text>
<rect x="1320" y="254.3" width="6.4" height="6.6" fill="#111"/>
<text x="1359.4" y="265.3" font-family='"Liberation Serif", serif' font-size="26" fill="#111">Hormonal Medications (N=7)</text>
<rect x="1320" y="283.3" width="6.4" height="6.6" fill="#111"/>
<text x="1359.4" y="294.3" font-family='"Liberation Serif", serif' font-size="26" fill="#111">Antimicrobial Medications (N=4)</text>
<rect x="1320" y="312.3" width="6.4" height="6.6" fill="#111"/>
<text x="1359.4" y="323.3" font-family='"Liberation Serif", serif' font-size="26" fill="#111">Immunological Medications (N=3)</text>
<rect x="1320" y="341.3" width="6.4" height="6.6" fill="#111"/>
<text x="1359.4" y="352.3" font-family='"Liberation Serif", serif' font-size="26" fill="#111">Other Medications (N=7)</text>
<rect x="2.7" y="555" width="325.5" height="328.1" fill="#ecdff0"/>
<rect x="2.7" y="883.1" width="325.5" height="179.1" fill="#e8dcd3"/>
<rect x="2.7" y="1062.2" width="325.5" height="206.9" fill="#d9eff9"/>
<rect x="2.7" y="1269.1" width="325.5" height="120.6" fill="#f6e4f0"/>
<rect x="2.7" y="1389.7" width="325.5" height="92.4" fill="#d4e7dd"/>
<rect x="2.7" y="1482.1" width="325.5" height="207.9" fill="#d0d7e1"/>
<text x="156.3" y="653.7" text-anchor="middle" font-family='"Liberation Serif", serif' font-size="34" fill="#a62bc0">Ocular Medications</text>
<text x="157.3" y="926.2" text-anchor="middle" font-family='"Liberation Serif", serif' font-size="34" fill="#c0504d">Oncology</text>
<text x="162.1" y="962.2" text-anchor="middle" font-family='"Liberation Serif", serif' font-size="34" fill="#c0504d">Medications</text>
<text x="158.8" y="1117.6" text-anchor="middle" font-family='"Liberation Serif", serif' font-size="34" fill="#6ec6e6">Hormonal</text>
<text x="163.2" y="1155.4" text-anchor="middle" font-family='"Liberation Serif", serif' font-size="34" fill="#6ec6e6">Medications</text>
<text x="162.8" y="1311.7" text-anchor="middle" font-family='"Liberation Serif", serif' font-size="34" fill="#d6349a">Antimicrobial</text>
<text x="162.8" y="1349.5" text-anchor="middle" font-family='"Liberation Serif", serif' font-size="34" fill="#d6349a">Medications</text>
<text x="153.7" y="1425" text-anchor="middle" font-family='"Liberation Serif", serif' font-size="34" fill="#74d382">Immunnologial</text>
<text x="154.9" y="1462.8" text-anchor="middle" font-family='"Liberation Serif", serif' font-size="34" fill="#74d382">Medications</text>
<text x="159.4" y="1550.5" text-anchor="middle" font-family='"Liberation Serif", serif' font-size="34" fill="#5b8bd0">Other Medications</text>
<path d="M94.3,773.6 Q156.4,699.6 218.5,773.6 Q156.4,847.6 94.3,773.6 Z" fill="#fff" stroke="#b4dbe2" stroke-width="5" stroke-linejoin="miter" stroke-miterlimit="6"/>
<circle cx="156.4" cy="773.6" r="31.1" fill="#b8dde3" stroke="#1c2f5c" stroke-width="5"/>
<circle cx="156.4" cy="773.6" r="15.6" fill="#1c2f5c"/>
<circle cx="151" cy="768.9" r="5.1" fill="#fff"/>
<circle cx="150.7" cy="779.7" r="2.9" fill="#fff"/>
<defs>
<radialGradient id="cg" cx="0.45" cy="0.42" r="0.6"><stop offset="0" stop-color="#b5714f"/><stop offset="0.55" stop-color="#8a3f22"/><stop offset="0.85" stop-color="#8b4a2a"/><stop offset="1" stop-color="#93502d"/></radialGradient>
<filter id="bl2" x="-50%" y="-50%" width="200%" height="200%"><feGaussianBlur stdDeviation="2.2"/></filter>
<filter id="bl1" x="-50%" y="-50%" width="200%" height="200%"><feGaussianBlur stdDeviation="1.2"/></filter>
<filter id="bl05" x="-20%" y="-20%" width="140%" height="140%"><feGaussianBlur stdDeviation="0.6"/></filter>
<clipPath id="cellclip"><circle cx="157.4" cy="1018.5" r="33"/></clipPath>
</defs>
<circle cx="157.4" cy="1018.5" r="37.2" fill="#fff" filter="url(#bl05)"/>
<path d="M191.32,1018.5 L191.4,1019.69 L191.35,1020.87 L191.18,1022.05 L190.87,1023.2 L190.45,1024.33 L189.95,1025.42 L189.4,1026.48 L188.83,1027.51 L188.27,1028.53 L187.76,1029.55 L187.29,1030.58 L186.88,1031.63 L186.52,1032.7 L186.18,1033.8 L185.83,1034.92 L185.46,1036.03 L185.02,1037.13 L184.5,1038.19 L183.89,1039.2 L183.18,1040.14 L182.39,1041 L181.53,1041.8 L180.62,1042.54 L179.68,1043.24 L178.73,1043.92 L177.78,1044.59 L176.85,1045.27 L175.93,1045.97 L175.01,1046.68 L174.09,1047.4 L173.14,1048.1 L172.16,1048.76 L171.14,1049.36 L170.07,1049.86 L168.96,1050.25 L167.81,1050.53 L166.63,1050.69 L165.44,1050.76 L164.25,1050.75 L163.08,1050.7 L161.92,1050.64 L160.78,1050.61 L159.65,1050.63 L158.52,1050.7 L157.4,1050.84 L156.26,1051.01 L155.11,1051.21 L153.94,1051.4 L152.76,1051.54 L151.56,1051.59 L150.38,1051.55 L149.2,1051.38 L148.05,1051.09 L146.94,1050.68 L145.87,1050.18 L144.83,1049.61 L143.83,1048.98 L142.86,1048.31 L141.94,1047.58 L141.08,1046.76 L140.29,1045.87 L139.51,1045.02 L138.63,1044.34 L137.58,1043.87 L136.41,1043.52 L135.25,1043.1 L134.21,1042.51 L133.33,1041.74 L132.59,1040.84 L131.95,1039.86 L131.39,1038.82 L130.88,1037.76 L130.41,1036.71 L129.93,1035.66 L129.43,1034.65 L128.89,1033.66 L128.3,1032.69 L127.65,1031.74 L126.98,1030.79 L126.29,1029.82 L125.63,1028.82 L125.02,1027.78 L124.5,1026.7 L124.09,1025.58 L123.82,1024.42 L123.68,1023.24 L123.66,1022.05 L123.74,1020.85 L123.9,1019.67 L124.1,1018.5 L124.32,1017.34 L124.52,1016.2 L124.7,1015.06 L124.85,1013.93 L124.98,1012.78 L125.1,1011.64 L125.26,1010.49 L125.48,1009.35 L125.83,1008.24 L126.36,1007.2 L127.08,1006.25 L127.89,1005.36 L128.64,1004.47 L129.21,1003.51 L129.66,1002.49 L130.1,1001.44 L130.61,1000.43 L131.19,999.46 L131.79,998.49 L132.39,997.51 L132.97,996.5 L133.56,995.48 L134.18,994.45 L134.84,993.45 L135.58,992.49 L136.4,991.62 L137.3,990.84 L138.29,990.18 L139.36,989.63 L140.48,989.19 L141.63,988.84 L142.79,988.55 L143.95,988.29 L145.1,988.04 L146.22,987.78 L147.32,987.48 L148.41,987.15 L149.5,986.8 L150.59,986.47 L151.71,986.23 L152.85,986.14 L154.01,986.22 L155.16,986.45 L156.29,986.71 L157.4,986.85 L158.51,986.83 L159.63,986.68 L160.76,986.52 L161.91,986.44 L163.05,986.47 L164.19,986.57 L165.33,986.7 L166.48,986.83 L167.65,986.96 L168.83,987.1 L170.01,987.28 L171.19,987.53 L172.34,987.87 L173.44,988.34 L174.48,988.92 L175.45,989.62 L176.34,990.43 L177.15,991.31 L177.91,992.25 L178.62,993.21 L179.31,994.16 L180.01,995.09 L180.72,995.98 L181.47,996.83 L182.25,997.65 L183.06,998.45 L183.89,999.25 L184.71,1000.08 L185.5,1000.94 L186.23,1001.86 L186.88,1002.83 L187.44,1003.85 L187.91,1004.92 L188.29,1006.02 L188.61,1007.14 L188.88,1008.27 L189.12,1009.4 L189.37,1010.53 L189.64,1011.65 L189.93,1012.76 L190.25,1013.88 L190.57,1015.01 L190.88,1016.16 L191.14,1017.32Z" fill="url(#cg)" stroke="#8a4523" stroke-width="1.5" filter="url(#bl05)"/>
<g clip-path="url(#cellclip)">
<ellipse cx="145" cy="1000" rx="11" ry="6" fill="#e6cdc2" opacity="0.7" transform="rotate(-35 145 1000)" filter="url(#bl2)"/>
<ellipse cx="177.5" cy="1006" rx="3.5" ry="12" fill="#e4c6b6" opacity="0.8" transform="rotate(-12 177.5 1006)" filter="url(#bl1)"/>
<ellipse cx="177" cy="1022" rx="3" ry="11" fill="#c98a45" opacity="0.9" transform="rotate(-8 177 1022)" filter="url(#bl1)"/>
<ellipse cx="167.5" cy="1010.5" rx="5" ry="6.5" fill="#2a2220" filter="url(#bl2)"/>
<ellipse cx="171" cy="1034" rx="4.5" ry="7" fill="#2a1208" filter="url(#bl2)"/>
<ellipse cx="143" cy="1021" rx="7" ry="5" fill="#4a2c24" opacity="0.8" filter="url(#bl2)"/>
<ellipse cx="135" cy="1034" rx="4" ry="7" fill="#4e2a10" opacity="0.7" transform="rotate(-25 135 1034)" filter="url(#bl2)"/>
<ellipse cx="156" cy="1008" rx="8" ry="7" fill="#c08468" opacity="0.7" filter="url(#bl2)"/>
<ellipse cx="155" cy="1034" rx="11" ry="6" fill="#7d2a0d" opacity="0.7" filter="url(#bl2)"/>
</g>
<circle cx="86" cy="1204" r="5" fill="#66ae5a"/>
<circle cx="124.9" cy="1204" r="5" fill="#66ae5a"/>
<circle cx="148.2" cy="1204" r="5" fill="#66ae5a"/>
<circle cx="154.1" cy="1204" r="5" fill="#66ae5a"/>
<circle cx="133.6" cy="1213.5" r="5" fill="#66ae5a"/>
<circle cx="139.5" cy="1218.7" r="5" fill="#66ae5a"/>
<circle cx="168.5" cy="1213.5" r="5" fill="#66ae5a"/>
<circle cx="119.3" cy="1227.9" r="5" fill="#66ae5a"/>
<circle cx="191.8" cy="1227.9" r="5" fill="#66ae5a"/>
<circle cx="220.7" cy="1227.9" r="5" fill="#66ae5a"/>
<circle cx="124.9" cy="1242.5" r="5" fill="#66ae5a"/>
<ellipse cx="157.2" cy="1233" rx="3.8" ry="5" fill="#66ae5a"/>
<g transform="translate(66.2 1368.7) rotate(-45)"><rect x="-1.5" y="-9" width="3" height="4" fill="#f4f4fb" stroke="#5a6b6b" stroke-width="0.8"/><rect x="-3.2" y="-5.6" width="6.4" height="11" fill="#7fd4e8" stroke="#5a6b6b" stroke-width="1"/></g>
<ellipse cx="46.9" cy="1345.8" rx="19.5" ry="23.7" fill="#5a6b6b"/>
<ellipse cx="46.9" cy="1345.8" rx="18.4" ry="22.6" fill="#8db645"/>
<ellipse cx="46.9" cy="1345.8" rx="14.7" ry="18.9" fill="#5a6b6b"/>
<ellipse cx="46.9" cy="1345.8" rx="13.7" ry="17.9" fill="#fff"/>
<path d="M40.3,1341.8 C43.6,1341 45,1346 43,1350.4 C40.5,1351.5 37,1347 37.6,1344 C38,1342.6 39,1342 40.3,1341.8 Z" fill="#8adcf0" stroke="#5a6b6b" stroke-width="0.9"/>
<path d="M43,1350.4 C44,1355 46.5,1354.5 48.4,1358.6" fill="none" stroke="#5a6b6b" stroke-width="1.3" stroke-linecap="round"/>
<path d="M51.6,1343.6 C54.5,1344.5 55.6,1349 53.6,1351.6 C51.5,1352.5 49.4,1350 49.6,1347 C49.8,1345 50.5,1344 51.6,1343.6 Z" fill="#8adcf0" stroke="#5a6b6b" stroke-width="0.9"/>
<path d="M51.6,1343.6 C50.5,1340 48,1340 46.2,1336.6" fill="none" stroke="#5a6b6b" stroke-width="1.3" stroke-linecap="round"/>
<path d="M46.9,1332.6 C52.5,1333.5 57,1338.5 58,1345.2" fill="none" stroke="#6a7b7b" stroke-width="1.3" stroke-linecap="round"/>
<g filter="url(#bl05)">
<line x1="288.2" y1="1441" x2="300.7" y2="1422.67" stroke="#e0b57c" stroke-width="5.8" stroke-linecap="round"/>
<line x1="288.2" y1="1441" x2="297.78" y2="1426.96" stroke="#e0b57c" stroke-width="8.5" stroke-linecap="round"/>
<line x1="288.2" y1="1441" x2="304.09" y2="1430.38" stroke="#e0b57c" stroke-width="5.8" stroke-linecap="round"/>
<line x1="288.2" y1="1441" x2="300.37" y2="1432.86" stroke="#e0b57c" stroke-width="8.5" stroke-linecap="round"/>
<line x1="288.2" y1="1441" x2="311.32" y2="1441" stroke="#e0b57c" stroke-width="5.8" stroke-linecap="round"/>
<line x1="288.2" y1="1441" x2="305.91" y2="1441" stroke="#e0b57c" stroke-width="8.5" stroke-linecap="round"/>
<line x1="288.2" y1="1441" x2="307.47" y2="1453.97" stroke="#e0b57c" stroke-width="5.8" stroke-linecap="round"/>
<line x1="288.2" y1="1441" x2="302.96" y2="1450.94" stroke="#e0b57c" stroke-width="8.5" stroke-linecap="round"/>
<line x1="288.2" y1="1441" x2="288.2" y2="1455.01" stroke="#e0b57c" stroke-width="5.8" stroke-linecap="round"/>
<line x1="288.2" y1="1441" x2="288.2" y2="1451.73" stroke="#e0b57c" stroke-width="8.5" stroke-linecap="round"/>
<line x1="288.2" y1="1441" x2="276.17" y2="1453.5" stroke="#e0b57c" stroke-width="5.8" stroke-linecap="round"/>
<line x1="288.2" y1="1441" x2="278.98" y2="1450.58" stroke="#e0b57c" stroke-width="8.5" stroke-linecap="round"/>
<line x1="288.2" y1="1441" x2="265.55" y2="1448.24" stroke="#e0b57c" stroke-width="5.8" stroke-linecap="round"/>
<line x1="288.2" y1="1441" x2="270.85" y2="1446.54" stroke="#e0b57c" stroke-width="8.5" stroke-linecap="round"/>
<line x1="288.2" y1="1441" x2="260.75" y2="1437.15" stroke="#e0b57c" stroke-width="5.8" stroke-linecap="round"/>
<line x1="288.2" y1="1441" x2="267.18" y2="1438.05" stroke="#e0b57c" stroke-width="8.5" stroke-linecap="round"/>
<line x1="288.2" y1="1441" x2="272.31" y2="1428.5" stroke="#e0b57c" stroke-width="5.8" stroke-linecap="round"/>
<line x1="288.2" y1="1441" x2="276.03" y2="1431.42" stroke="#e0b57c" stroke-width="8.5" stroke-linecap="round"/>
<ellipse cx="288.2" cy="1441" rx="19" ry="13.2" fill="#e0b57c" transform="rotate(-15 288.2 1441)"/>
<ellipse cx="287.2" cy="1440" rx="14" ry="9.5" fill="#ecd0a4" transform="rotate(-18 288.2 1441)"/>
<ellipse cx="289.7" cy="1442.5" rx="12" ry="8" fill="#e3bb85" transform="rotate(-18 288.2 1441)"/>
<ellipse cx="288.5" cy="1441.6" rx="9.4" ry="6.6" fill="#c88535" transform="rotate(-22 288.2 1441)"/>
<ellipse cx="288.5" cy="1440.6" rx="4.6" ry="2.8" fill="#dca660" transform="rotate(-25 288.2 1441)"/>
</g>
<defs><clipPath id="capclip"><rect x="154.4" y="1588.1" width="31" height="58" rx="15.5" ry="15.5"/></clipPath><clipPath id="tabclip"><circle cx="149.7" cy="1621.8" r="17.7"/></clipPath></defs>
<g clip-path="url(#capclip)"><rect x="150" y="1580" width="40" height="38.2" fill="#64b5f6"/><rect x="150" y="1618.2" width="40" height="2.8" fill="#fff"/><rect x="150" y="1621" width="40" height="30" fill="#e0508f"/><line x1="150" y1="1617.6" x2="190" y2="1617.6" stroke="#4a2378" stroke-width="1.2"/><line x1="150" y1="1621.4" x2="190" y2="1621.4" stroke="#4a2378" stroke-width="1.2"/></g>
<rect x="154.4" y="1588.1" width="31" height="58" rx="15.5" ry="15.5" fill="none" stroke="#4a2378" stroke-width="1.5"/>
<circle cx="166.6" cy="1601.9" r="2.5" fill="#eaf6ff" stroke="#4a2378" stroke-width="1.4"/>
<circle cx="177.1" cy="1605.5" r="2.5" fill="#eaf6ff" stroke="#4a2378" stroke-width="1.4"/>
<circle cx="174" cy="1634.2" r="2.5" fill="#eaf6ff" stroke="#4a2378" stroke-width="1.4"/>
<circle cx="149.7" cy="1621.8" r="17.7" fill="#e0f3fc" stroke="#4a2378" stroke-width="1.5"/>
<g clip-path="url(#tabclip)"><line x1="130" y1="1640.5" x2="170" y2="1600.5" stroke="#4a2378" stroke-width="5"/><line x1="130" y1="1640.5" x2="170" y2="1600.5" stroke="#c3b2e0" stroke-width="2.3"/></g>
<rect x="496.8" y="555" width="1227.2" height="328.1" fill="#f4eff8"/>
<rect x="496.8" y="883.1" width="1227.2" height="179.1" fill="#f6f2ee"/>
<rect x="496.8" y="1062.2" width="1227.2" height="206.9" fill="#eef7fd"/>
<rect x="496.8" y="1269.1" width="1227.2" height="120.6" fill="#fcf5fa"/>
<rect x="496.8" y="1389.7" width="1227.2" height="92.4" fill="#eef4f0"/>
<rect x="496.8" y="1482.1" width="1227.2" height="207.9" fill="#edf0f5"/>
<rect x="1130.2" y="554.7" width="89.1" height="29.88" fill="#5472aa"/>
<rect x="1219.3" y="554.7" width="97.4" height="29.88" fill="#5c7cb3"/>
<rect x="1316.7" y="554.7" width="97.2" height="29.88" fill="#6c92c6"/>
<rect x="1413.9" y="554.7" width="97.5" height="29.88" fill="#dde4f5"/>
<rect x="1130.2" y="584.58" width="89.1" height="29.88" fill="#698ec2"/>
<rect x="1219.3" y="584.58" width="97.4" height="29.88" fill="#6f96c9"/>
<rect x="1316.7" y="584.58" width="97.2" height="29.88" fill="#7098ca"/>
<rect x="1413.9" y="584.58" width="97.5" height="29.88" fill="#dde4f5"/>
<rect x="1130.2" y="614.45" width="89.1" height="29.88" fill="#7ba6d7"/>
<rect x="1219.3" y="614.45" width="97.4" height="29.88" fill="#7facdb"/>
<rect x="1316.7" y="614.45" width="97.2" height="29.88" fill="#7facdc"/>
<rect x="1413.9" y="614.45" width="97.5" height="29.88" fill="#dde4f5"/>
<rect x="1130.2" y="644.33" width="89.1" height="29.88" fill="#80addc"/>
<rect x="1219.3" y="644.33" width="97.4" height="29.88" fill="#83b1e0"/>
<rect x="1316.7" y="644.33" width="97.2" height="29.88" fill="#84b3e2"/>
<rect x="1413.9" y="644.33" width="97.5" height="29.88" fill="#dde4f5"/>
<rect x="1130.2" y="674.21" width="89.1" height="29.88" fill="#87b7e5"/>
<rect x="1219.3" y="674.21" width="97.4" height="29.88" fill="#8abbe9"/>
<rect x="1316.7" y="674.21" width="97.2" height="29.88" fill="#8bbce9"/>
<rect x="1413.9" y="674.21" width="97.5" height="29.88" fill="#dde4f5"/>
<rect x="1130.2" y="704.08" width="89.1" height="29.88" fill="#afcff0"/>
<rect x="1219.3" y="704.08" width="97.4" height="29.88" fill="#b0cff0"/>
<rect x="1316.7" y="704.08" width="97.2" height="29.88" fill="#b1d0f0"/>
<rect x="1413.9" y="704.08" width="97.5" height="29.88" fill="#dde4f5"/>
<rect x="1130.2" y="733.96" width="89.1" height="29.88" fill="#bfd6f1"/>
<rect x="1219.3" y="733.96" width="97.4" height="29.88" fill="#bfd6f1"/>
<rect x="1316.7" y="733.96" width="97.2" height="29.88" fill="#c3d8f2"/>
<rect x="1413.9" y="733.96" width="97.5" height="29.88" fill="#dee4f5"/>
<rect x="1130.2" y="763.83" width="89.1" height="29.88" fill="#c6d9f2"/>
<rect x="1219.3" y="763.83" width="97.4" height="29.88" fill="#c6daf2"/>
<rect x="1316.7" y="763.83" width="97.2" height="29.88" fill="#cbdcf3"/>
<rect x="1413.9" y="763.83" width="97.5" height="29.88" fill="#dee4f5"/>
<rect x="1130.2" y="793.71" width="89.1" height="29.88" fill="#dae3f4"/>
<rect x="1219.3" y="793.71" width="97.4" height="29.88" fill="#dae3f4"/>
<rect x="1316.7" y="793.71" width="97.2" height="29.88" fill="#dae3f4"/>
<rect x="1413.9" y="793.71" width="97.5" height="29.88" fill="#dee5f5"/>
<rect x="1130.2" y="823.59" width="89.1" height="29.88" fill="#dee4f5"/>
<rect x="1219.3" y="823.59" width="97.4" height="29.88" fill="#dee4f5"/>
<rect x="1316.7" y="823.59" width="97.2" height="29.88" fill="#dee4f5"/>
<rect x="1413.9" y="823.59" width="97.5" height="29.88" fill="#dfe5f5"/>
<rect x="1130.2" y="853.46" width="89.1" height="29.88" fill="#dee5f5"/>
<rect x="1219.3" y="853.46" width="97.4" height="29.88" fill="#dee5f5"/>
<rect x="1316.7" y="853.46" width="97.2" height="29.88" fill="#dee5f5"/>
<rect x="1413.9" y="853.46" width="97.5" height="29.88" fill="#dfe5f5"/>
<rect x="1130.2" y="883.34" width="89.1" height="29.88" fill="#dae5ea"/>
<rect x="1219.3" y="883.34" width="97.4" height="29.88" fill="#dae5ea"/>
<rect x="1316.7" y="883.34" width="97.2" height="29.88" fill="#dae5ea"/>
<rect x="1413.9" y="883.34" width="97.5" height="29.88" fill="#e0e8eb"/>
<rect x="1130.2" y="913.22" width="89.1" height="29.88" fill="#dde6eb"/>
<rect x="1219.3" y="913.22" width="97.4" height="29.88" fill="#dde6eb"/>
<rect x="1316.7" y="913.22" width="97.2" height="29.88" fill="#dde6eb"/>
<rect x="1413.9" y="913.22" width="97.5" height="29.88" fill="#e0e8eb"/>
<rect x="1130.2" y="943.09" width="89.1" height="29.88" fill="#dfe7eb"/>
<rect x="1219.3" y="943.09" width="97.4" height="29.88" fill="#dfe7eb"/>
<rect x="1316.7" y="943.09" width="97.2" height="29.88" fill="#dfe7eb"/>
<rect x="1413.9" y="943.09" width="97.5" height="29.88" fill="#e1e8eb"/>
<rect x="1130.2" y="972.97" width="89.1" height="29.88" fill="#dfe7eb"/>
<rect x="1219.3" y="972.97" width="97.4" height="29.88" fill="#dfe7eb"/>
<rect x="1316.7" y="972.97" width="97.2" height="29.88" fill="#dfe7eb"/>
<rect x="1413.9" y="972.97" width="97.5" height="29.88" fill="#e1e8eb"/>
<rect x="1130.2" y="1002.84" width="89.1" height="29.88" fill="#dfe7eb"/>
<rect x="1219.3" y="1002.84" width="97.4" height="29.88" fill="#dfe7eb"/>
<rect x="1316.7" y="1002.84" width="97.2" height="29.88" fill="#e0e7eb"/>
<rect x="1413.9" y="1002.84" width="97.5" height="29.88" fill="#e1e8eb"/>
<rect x="1130.2" y="1032.72" width="89.1" height="29.88" fill="#e0e8eb"/>
<rect x="1219.3" y="1032.72" width="97.4" height="29.88" fill="#e0e8eb"/>
<rect x="1316.7" y="1032.72" width="97.2" height="29.88" fill="#e0e8eb"/>
<rect x="1413.9" y="1032.72" width="97.5" height="29.88" fill="#e1e8eb"/>
<rect x="1130.2" y="1062.6" width="89.1" height="29.88" fill="#c6e4f8"/>
<rect x="1219.3" y="1062.6" width="97.4" height="29.88" fill="#c6e4f8"/>
<rect x="1316.7" y="1062.6" width="97.2" height="29.88" fill="#c6e4f8"/>
<rect x="1413.9" y="1062.6" width="97.5" height="29.88" fill="#d8ecfa"/>
<rect x="1130.2" y="1092.47" width="89.1" height="29.88" fill="#cbe7f9"/>
<rect x="1219.3" y="1092.47" width="97.4" height="29.88" fill="#cce7f9"/>
<rect x="1316.7" y="1092.47" width="97.2" height="29.88" fill="#cce7f9"/>
<rect x="1413.9" y="1092.47" width="97.5" height="29.88" fill="#d8ecfa"/>
<rect x="1130.2" y="1122.35" width="89.1" height="29.88" fill="#d2eaf9"/>
<rect x="1219.3" y="1122.35" width="97.4" height="29.88" fill="#d2eaf9"/>
<rect x="1316.7" y="1122.35" width="97.2" height="29.88" fill="#d2eaf9"/>
<rect x="1413.9" y="1122.35" width="97.5" height="29.88" fill="#d8edfa"/>
<rect x="1130.2" y="1152.23" width="89.1" height="29.88" fill="#d5ebfa"/>
<rect x="1219.3" y="1152.23" width="97.4" height="29.88" fill="#d5ebfa"/>
<rect x="1316.7" y="1152.23" width="97.2" height="29.88" fill="#d6ebfa"/>
<rect x="1413.9" y="1152.23" width="97.5" height="29.88" fill="#d8edfa"/>
<rect x="1130.2" y="1182.1" width="89.1" height="29.88" fill="#d7ecfa"/>
<rect x="1219.3" y="1182.1" width="97.4" height="29.88" fill="#d7ecfa"/>
<rect x="1316.7" y="1182.1" width="97.2" height="29.88" fill="#d7ecfa"/>
<rect x="1413.9" y="1182.1" width="97.5" height="29.88" fill="#d9edfa"/>
<rect x="1130.2" y="1211.98" width="89.1" height="29.88" fill="#d8edfa"/>
<rect x="1219.3" y="1211.98" width="97.4" height="29.88" fill="#d8edfa"/>
<rect x="1316.7" y="1211.98" width="97.2" height="29.88" fill="#d8edfa"/>
<rect x="1413.9" y="1211.98" width="97.5" height="29.88" fill="#d9edfa"/>
<rect x="1130.2" y="1241.86" width="89.1" height="29.88" fill="#d9edfa"/>
<rect x="1219.3" y="1241.86" width="97.4" height="29.88" fill="#d9edfa"/>
<rect x="1316.7" y="1241.86" width="97.2" height="29.88" fill="#d9edfa"/>
<rect x="1413.9" y="1241.86" width="97.5" height="29.88" fill="#d9edfa"/>
<rect x="1130.2" y="1271.73" width="89.1" height="29.88" fill="#e5eaf7"/>
<rect x="1219.3" y="1271.73" width="97.4" height="29.88" fill="#e5eaf7"/>
<rect x="1316.7" y="1271.73" width="97.2" height="29.88" fill="#e5eaf7"/>
<rect x="1413.9" y="1271.73" width="97.5" height="29.88" fill="#e7ebf7"/>
<rect x="1130.2" y="1301.61" width="89.1" height="29.88" fill="#e6eaf7"/>
<rect x="1219.3" y="1301.61" width="97.4" height="29.88" fill="#e6eaf7"/>
<rect x="1316.7" y="1301.61" width="97.2" height="29.88" fill="#e6eaf7"/>
<rect x="1413.9" y="1301.61" width="97.5" height="29.88" fill="#e7ebf7"/>
<rect x="1130.2" y="1331.48" width="89.1" height="29.88" fill="#e6ebf7"/>
<rect x="1219.3" y="1331.48" width="97.4" height="29.88" fill="#e6ebf7"/>
<rect x="1316.7" y="1331.48" width="97.2" height="29.88" fill="#e6ebf7"/>
<rect x="1413.9" y="1331.48" width="97.5" height="29.88" fill="#e7ebf7"/>
<rect x="1130.2" y="1361.36" width="89.1" height="29.88" fill="#e6ebf7"/>
<rect x="1219.3" y="1361.36" width="97.4" height="29.88" fill="#e6ebf7"/>
<rect x="1316.7" y="1361.36" width="97.2" height="29.88" fill="#e6ebf7"/>
<rect x="1413.9" y="1361.36" width="97.5" height="29.88" fill="#e7ebf7"/>
<rect x="1130.2" y="1391.24" width="89.1" height="29.88" fill="#d6e9ed"/>
<rect x="1219.3" y="1391.24" width="97.4" height="29.88" fill="#d6e9ed"/>
<rect x="1316.7" y="1391.24" width="97.2" height="29.88" fill="#d6e9ed"/>
<rect x="1413.9" y="1391.24" width="97.5" height="29.88" fill="#d8eaed"/>
<rect x="1130.2" y="1421.11" width="89.1" height="29.88" fill="#d8eaed"/>
<rect x="1219.3" y="1421.11" width="97.4" height="29.88" fill="#d8eaed"/>
<rect x="1316.7" y="1421.11" width="97.2" height="29.88" fill="#d8eaed"/>
<rect x="1413.9" y="1421.11" width="97.5" height="29.88" fill="#d9eaed"/>
<rect x="1130.2" y="1450.99" width="89.1" height="29.88" fill="#d8eaed"/>
<rect x="1219.3" y="1450.99" width="97.4" height="29.88" fill="#d8eaed"/>
<rect x="1316.7" y="1450.99" width="97.2" height="29.88" fill="#d8eaed"/>
<rect x="1413.9" y="1450.99" width="97.5" height="29.88" fill="#d9eaed"/>
<rect x="1130.2" y="1480.87" width="89.1" height="29.88" fill="#cbe0f1"/>
<rect x="1219.3" y="1480.87" width="97.4" height="29.88" fill="#cce0f1"/>
<rect x="1316.7" y="1480.87" width="97.2" height="29.88" fill="#cce0f1"/>
<rect x="1413.9" y="1480.87" width="97.5" height="29.88" fill="#d7e5f2"/>
<rect x="1130.2" y="1510.74" width="89.1" height="29.88" fill="#d3e4f1"/>
<rect x="1219.3" y="1510.74" width="97.4" height="29.88" fill="#d3e4f1"/>
<rect x="1316.7" y="1510.74" width="97.2" height="29.88" fill="#d3e4f1"/>
<rect x="1413.9" y="1510.74" width="97.5" height="29.88" fill="#d7e6f2"/>
<rect x="1130.2" y="1540.62" width="89.1" height="29.88" fill="#d6e5f2"/>
<rect x="1219.3" y="1540.62" width="97.4" height="29.88" fill="#d6e5f2"/>
<rect x="1316.7" y="1540.62" width="97.2" height="29.88" fill="#d6e5f2"/>
<rect x="1413.9" y="1540.62" width="97.5" height="29.88" fill="#d8e6f2"/>
<rect x="1130.2" y="1570.49" width="89.1" height="29.88" fill="#d7e5f2"/>
<rect x="1219.3" y="1570.49" width="97.4" height="29.88" fill="#d7e5f2"/>
<rect x="1316.7" y="1570.49" width="97.2" height="29.88" fill="#d7e5f2"/>
<rect x="1413.9" y="1570.49" width="97.5" height="29.88" fill="#d8e6f2"/>
<rect x="1130.2" y="1600.37" width="89.1" height="29.88" fill="#d7e5f2"/>
<rect x="1219.3" y="1600.37" width="97.4" height="29.88" fill="#d7e5f2"/>
<rect x="1316.7" y="1600.37" width="97.2" height="29.88" fill="#d7e5f2"/>
<rect x="1413.9" y="1600.37" width="97.5" height="29.88" fill="#d8e6f2"/>
<rect x="1130.2" y="1630.25" width="89.1" height="29.88" fill="#d7e5f2"/>
<rect x="1219.3" y="1630.25" width="97.4" height="29.88" fill="#d7e5f2"/>
<rect x="1316.7" y="1630.25" width="97.2" height="29.88" fill="#d7e5f2"/>
<rect x="1413.9" y="1630.25" width="97.5" height="29.88" fill="#d8e6f2"/>
<rect x="1130.2" y="1660.12" width="89.1" height="29.88" fill="#d7e6f2"/>
<rect x="1219.3" y="1660.12" width="97.4" height="29.88" fill="#d7e6f2"/>
<rect x="1316.7" y="1660.12" width="97.2" height="29.88" fill="#d7e6f2"/>
<rect x="1413.9" y="1660.12" width="97.5" height="29.88" fill="#d8e6f2"/>
<path d="M1130.2,554.7 H1511.4 M1130.2,584.58 H1511.4 M1130.2,614.45 H1511.4 M1130.2,644.33 H1511.4 M1130.2,674.21 H1511.4 M1130.2,704.08 H1511.4 M1130.2,733.96 H1511.4 M1130.2,763.83 H1511.4 M1130.2,793.71 H1511.4 M1130.2,823.59 H1511.4 M1130.2,853.46 H1511.4 M1130.2,883.34 H1511.4 M1130.2,913.22 H1511.4 M1130.2,943.09 H1511.4 M1130.2,972.97 H1511.4 M1130.2,1002.84 H1511.4 M1130.2,1032.72 H1511.4 M1130.2,1062.6 H1511.4 M1130.2,1092.47 H1511.4 M1130.2,1122.35 H1511.4 M1130.2,1152.23 H1511.4 M1130.2,1182.1 H1511.4 M1130.2,1211.98 H1511.4 M1130.2,1241.86 H1511.4 M1130.2,1271.73 H1511.4 M1130.2,1301.61 H1511.4 M1130.2,1331.48 H1511.4 M1130.2,1361.36 H1511.4 M1130.2,1391.24 H1511.4 M1130.2,1421.11 H1511.4 M1130.2,1450.99 H1511.4 M1130.2,1480.87 H1511.4 M1130.2,1510.74 H1511.4 M1130.2,1540.62 H1511.4 M1130.2,1570.49 H1511.4 M1130.2,1600.37 H1511.4 M1130.2,1630.25 H1511.4 M1130.2,1660.12 H1511.4 M1130.2,1690 H1511.4 M1130.2,554.7 V1690.0 M1219.3,554.7 V1690.0 M1316.7,554.7 V1690.0 M1413.9,554.7 V1690.0 M1511.4,554.7 V1690.0" stroke="#c2c3c8" stroke-width="1.4" fill="none"/>
<text x="1170.65" y="573.64" text-anchor="middle" font-family='"Liberation Sans", sans-serif' font-size="11.7" fill="#30303a" stroke="#30303a" stroke-width="0.2">539.26</text>
<text x="1268" y="573.64" text-anchor="middle" font-family='"Liberation Sans", sans-serif' font-size="11.7" fill="#30303a" stroke="#30303a" stroke-width="0.2">503.77</text>
<text x="1365.3" y="573.64" text-anchor="middle" font-family='"Liberation Sans", sans-serif' font-size="11.7" fill="#30303a" stroke="#30303a" stroke-width="0.2">427.25</text>
<text x="1462.65" y="573.64" text-anchor="middle" font-family='"Liberation Sans", sans-serif' font-size="11.7" fill="#30303a" stroke="#30303a" stroke-width="0.2">8.74</text>
<text x="1515.4" y="574.44" font-family='"Liberation Sans", sans-serif' font-size="13.7" fill="#1a1a1a" stroke="#1a1a1a" stroke-width="0.3">Brolucizumab</text>
<text x="1170.65" y="603.51" text-anchor="middle" font-family='"Liberation Sans", sans-serif' font-size="11.7" fill="#30303a" stroke="#30303a" stroke-width="0.2">442.44</text>
<text x="1268" y="603.51" text-anchor="middle" font-family='"Liberation Sans", sans-serif' font-size="11.7" fill="#30303a" stroke="#30303a" stroke-width="0.2">414.60</text>
<text x="1365.3" y="603.51" text-anchor="middle" font-family='"Liberation Sans", sans-serif' font-size="11.7" fill="#30303a" stroke="#30303a" stroke-width="0.2">408.65</text>
<text x="1462.65" y="603.51" text-anchor="middle" font-family='"Liberation Sans", sans-serif' font-size="11.7" fill="#30303a" stroke="#30303a" stroke-width="0.2">8.67</text>
<text x="1515.4" y="604.31" font-family='"Liberation Sans", sans-serif' font-size="13.7" fill="#1a1a1a" stroke="#1a1a1a" stroke-width="0.3">Pegcetacoplan</text>
<text x="1170.65" y="633.39" text-anchor="middle" font-family='"Liberation Sans", sans-serif' font-size="11.7" fill="#30303a" stroke="#30303a" stroke-width="0.2">357.24</text>
<text x="1268" y="633.39" text-anchor="middle" font-family='"Liberation Sans", sans-serif' font-size="11.7" fill="#30303a" stroke="#30303a" stroke-width="0.2">338.65</text>
<text x="1365.3" y="633.39" text-anchor="middle" font-family='"Liberation Sans", sans-serif' font-size="11.7" fill="#30303a" stroke="#30303a" stroke-width="0.2">338.14</text>
<text x="1462.65" y="633.39" text-anchor="middle" font-family='"Liberation Sans", sans-serif' font-size="11.7" fill="#30303a" stroke="#30303a" stroke-width="0.2">8.40</text>
<text x="1515.4" y="634.19" font-family='"Liberation Sans", sans-serif' font-size="13.7" fill="#1a1a1a" stroke="#1a1a1a" stroke-width="0.3">Voretigene neparvovec</text>
<text x="1170.65" y="663.27" text-anchor="middle" font-family='"Liberation Sans", sans-serif' font-size="11.7" fill="#30303a" stroke="#30303a" stroke-width="0.2">334.65</text>
<text x="1268" y="663.27" text-anchor="middle" font-family='"Liberation Sans", sans-serif' font-size="11.7" fill="#30303a" stroke="#30303a" stroke-width="0.2">318.55</text>
<text x="1365.3" y="663.27" text-anchor="middle" font-family='"Liberation Sans", sans-serif' font-size="11.7" fill="#30303a" stroke="#30303a" stroke-width="0.2">312.70</text>
<text x="1462.65" y="663.27" text-anchor="middle" font-family='"Liberation Sans", sans-serif' font-size="11.7" fill="#30303a" stroke="#30303a" stroke-width="0.2">8.29</text>
<text x="1515.4" y="664.07" font-family='"Liberation Sans", sans-serif' font-size="13.7" fill="#1a1a1a" stroke="#1a1a1a" stroke-width="0.3">Ocriplasmin</text>
<text x="1170.65" y="693.14" text-anchor="middle" font-family='"Liberation Sans", sans-serif' font-size="11.7" fill="#30303a" stroke="#30303a" stroke-width="0.2">297.65</text>
<text x="1268" y="693.14" text-anchor="middle" font-family='"Liberation Sans", sans-serif' font-size="11.7" fill="#30303a" stroke="#30303a" stroke-width="0.2">284.71</text>
<text x="1365.3" y="693.14" text-anchor="middle" font-family='"Liberation Sans", sans-serif' font-size="11.7" fill="#30303a" stroke="#30303a" stroke-width="0.2">282.63</text>
<text x="1462.65" y="693.14" text-anchor="middle" font-family='"Liberation Sans", sans-serif' font-size="11.7" fill="#30303a" stroke="#30303a" stroke-width="0.2">8.14</text>
<text x="1515.4" y="693.94" font-family='"Liberation Sans", sans-serif' font-size="13.7" fill="#1a1a1a" stroke="#1a1a1a" stroke-width="0.3">Pilocarpine</text>
<text x="1170.65" y="723.02" text-anchor="middle" font-family='"Liberation Sans", sans-serif' font-size="11.7" fill="#30303a" stroke="#30303a" stroke-width="0.2">159.68</text>
<text x="1268" y="723.02" text-anchor="middle" font-family='"Liberation Sans", sans-serif' font-size="11.7" fill="#30303a" stroke="#30303a" stroke-width="0.2">155.97</text>
<text x="1365.3" y="723.02" text-anchor="middle" font-family='"Liberation Sans", sans-serif' font-size="11.7" fill="#30303a" stroke="#30303a" stroke-width="0.2">151.28</text>
<text x="1462.65" y="723.02" text-anchor="middle" font-family='"Liberation Sans", sans-serif' font-size="11.7" fill="#30303a" stroke="#30303a" stroke-width="0.2">7.24</text>
<text x="1515.4" y="723.82" font-family='"Liberation Sans", sans-serif' font-size="13.7" fill="#1a1a1a" stroke="#1a1a1a" stroke-width="0.3">Faricimab</text>
<text x="1170.65" y="752.9" text-anchor="middle" font-family='"Liberation Sans", sans-serif' font-size="11.7" fill="#30303a" stroke="#30303a" stroke-width="0.2">108.18</text>
<text x="1268" y="752.9" text-anchor="middle" font-family='"Liberation Sans", sans-serif' font-size="11.7" fill="#30303a" stroke="#30303a" stroke-width="0.2">106.65</text>
<text x="1365.3" y="752.9" text-anchor="middle" font-family='"Liberation Sans", sans-serif' font-size="11.7" fill="#30303a" stroke="#30303a" stroke-width="0.2">92.49</text>
<text x="1462.65" y="752.9" text-anchor="middle" font-family='"Liberation Sans", sans-serif' font-size="11.7" fill="#30303a" stroke="#30303a" stroke-width="0.2">6.53</text>
<text x="1515.4" y="753.7" font-family='"Liberation Sans", sans-serif' font-size="13.7" fill="#1a1a1a" stroke="#1a1a1a" stroke-width="0.3">Aflibercept</text>
<text x="1170.65" y="782.77" text-anchor="middle" font-family='"Liberation Sans", sans-serif' font-size="11.7" fill="#30303a" stroke="#30303a" stroke-width="0.2">83.31</text>
<text x="1268" y="782.77" text-anchor="middle" font-family='"Liberation Sans", sans-serif' font-size="11.7" fill="#30303a" stroke="#30303a" stroke-width="0.2">82.45</text>
<text x="1365.3" y="782.77" text-anchor="middle" font-family='"Liberation Sans", sans-serif' font-size="11.7" fill="#30303a" stroke="#30303a" stroke-width="0.2">67.30</text>
<text x="1462.65" y="782.77" text-anchor="middle" font-family='"Liberation Sans", sans-serif' font-size="11.7" fill="#30303a" stroke="#30303a" stroke-width="0.2">6.07</text>
<text x="1515.4" y="783.57" font-family='"Liberation Sans", sans-serif' font-size="13.7" fill="#1a1a1a" stroke="#1a1a1a" stroke-width="0.3">Ranibizumab</text>
<text x="1170.65" y="812.65" text-anchor="middle" font-family='"Liberation Sans", sans-serif' font-size="11.7" fill="#30303a" stroke="#30303a" stroke-width="0.2">18.75</text>
<text x="1268" y="812.65" text-anchor="middle" font-family='"Liberation Sans", sans-serif' font-size="11.7" fill="#30303a" stroke="#30303a" stroke-width="0.2">18.70</text>
<text x="1365.3" y="812.65" text-anchor="middle" font-family='"Liberation Sans", sans-serif' font-size="11.7" fill="#30303a" stroke="#30303a" stroke-width="0.2">18.68</text>
<text x="1462.65" y="812.65" text-anchor="middle" font-family='"Liberation Sans", sans-serif' font-size="11.7" fill="#30303a" stroke="#30303a" stroke-width="0.2">4.22</text>
<text x="1515.4" y="813.45" font-family='"Liberation Sans", sans-serif' font-size="13.7" fill="#1a1a1a" stroke="#1a1a1a" stroke-width="0.3">Brimonidine</text>
<text x="1170.65" y="842.53" text-anchor="middle" font-family='"Liberation Sans", sans-serif' font-size="11.7" fill="#30303a" stroke="#30303a" stroke-width="0.2">5.31</text>
<text x="1268" y="842.53" text-anchor="middle" font-family='"Liberation Sans", sans-serif' font-size="11.7" fill="#30303a" stroke="#30303a" stroke-width="0.2">5.31</text>
<text x="1365.3" y="842.53" text-anchor="middle" font-family='"Liberation Sans", sans-serif' font-size="11.7" fill="#30303a" stroke="#30303a" stroke-width="0.2">5.30</text>
<text x="1462.65" y="842.53" text-anchor="middle" font-family='"Liberation Sans", sans-serif' font-size="11.7" fill="#30303a" stroke="#30303a" stroke-width="0.2">2.41</text>
<text x="1515.4" y="843.33" font-family='"Liberation Sans", sans-serif' font-size="13.7" fill="#1a1a1a" stroke="#1a1a1a" stroke-width="0.3">Latanoprost</text>
<text x="1170.65" y="872.4" text-anchor="middle" font-family='"Liberation Sans", sans-serif' font-size="11.7" fill="#30303a" stroke="#30303a" stroke-width="0.2">5.18</text>
<text x="1268" y="872.4" text-anchor="middle" font-family='"Liberation Sans", sans-serif' font-size="11.7" fill="#30303a" stroke="#30303a" stroke-width="0.2">5.18</text>
<text x="1365.3" y="872.4" text-anchor="middle" font-family='"Liberation Sans", sans-serif' font-size="11.7" fill="#30303a" stroke="#30303a" stroke-width="0.2">5.17</text>
<text x="1462.65" y="872.4" text-anchor="middle" font-family='"Liberation Sans", sans-serif' font-size="11.7" fill="#30303a" stroke="#30303a" stroke-width="0.2">2.37</text>
<text x="1515.4" y="873.2" font-family='"Liberation Sans", sans-serif' font-size="13.7" fill="#1a1a1a" stroke="#1a1a1a" stroke-width="0.3">Lifitegrast</text>
<text x="1170.65" y="902.28" text-anchor="middle" font-family='"Liberation Sans", sans-serif' font-size="11.7" fill="#30303a" stroke="#30303a" stroke-width="0.2">23.65</text>
<text x="1268" y="902.28" text-anchor="middle" font-family='"Liberation Sans", sans-serif' font-size="11.7" fill="#30303a" stroke="#30303a" stroke-width="0.2">23.57</text>
<text x="1365.3" y="902.28" text-anchor="middle" font-family='"Liberation Sans", sans-serif' font-size="11.7" fill="#30303a" stroke="#30303a" stroke-width="0.2">23.30</text>
<text x="1462.65" y="902.28" text-anchor="middle" font-family='"Liberation Sans", sans-serif' font-size="11.7" fill="#30303a" stroke="#30303a" stroke-width="0.2">4.54</text>
<text x="1515.4" y="903.08" font-family='"Liberation Sans", sans-serif' font-size="13.7" fill="#1a1a1a" stroke="#1a1a1a" stroke-width="0.3">Crizotinib</text>
<text x="1170.65" y="932.15" text-anchor="middle" font-family='"Liberation Sans", sans-serif' font-size="11.7" fill="#30303a" stroke="#30303a" stroke-width="0.2">15.39</text>
<text x="1268" y="932.15" text-anchor="middle" font-family='"Liberation Sans", sans-serif' font-size="11.7" fill="#30303a" stroke="#30303a" stroke-width="0.2">15.35</text>
<text x="1365.3" y="932.15" text-anchor="middle" font-family='"Liberation Sans", sans-serif' font-size="11.7" fill="#30303a" stroke="#30303a" stroke-width="0.2">15.34</text>
<text x="1462.65" y="932.15" text-anchor="middle" font-family='"Liberation Sans", sans-serif' font-size="11.7" fill="#30303a" stroke="#30303a" stroke-width="0.2">3.94</text>
<text x="1515.4" y="932.95" font-family='"Liberation Sans", sans-serif' font-size="13.7" fill="#1a1a1a" stroke="#1a1a1a" stroke-width="0.3">Binimetinib</text>
<text x="1170.65" y="962.03" text-anchor="middle" font-family='"Liberation Sans", sans-serif' font-size="11.7" fill="#30303a" stroke="#30303a" stroke-width="0.2">9.12</text>
<text x="1268" y="962.03" text-anchor="middle" font-family='"Liberation Sans", sans-serif' font-size="11.7" fill="#30303a" stroke="#30303a" stroke-width="0.2">9.10</text>
<text x="1365.3" y="962.03" text-anchor="middle" font-family='"Liberation Sans", sans-serif' font-size="11.7" fill="#30303a" stroke="#30303a" stroke-width="0.2">9.08</text>
<text x="1462.65" y="962.03" text-anchor="middle" font-family='"Liberation Sans", sans-serif' font-size="11.7" fill="#30303a" stroke="#30303a" stroke-width="0.2">3.18</text>
<text x="1515.4" y="962.83" font-family='"Liberation Sans", sans-serif' font-size="13.7" fill="#1a1a1a" stroke="#1a1a1a" stroke-width="0.3">Trametinib</text>
<text x="1170.65" y="991.91" text-anchor="middle" font-family='"Liberation Sans", sans-serif' font-size="11.7" fill="#30303a" stroke="#30303a" stroke-width="0.2">7.11</text>
<text x="1268" y="991.91" text-anchor="middle" font-family='"Liberation Sans", sans-serif' font-size="11.7" fill="#30303a" stroke="#30303a" stroke-width="0.2">7.10</text>
<text x="1365.3" y="991.91" text-anchor="middle" font-family='"Liberation Sans", sans-serif' font-size="11.7" fill="#30303a" stroke="#30303a" stroke-width="0.2">7.09</text>
<text x="1462.65" y="991.91" text-anchor="middle" font-family='"Liberation Sans", sans-serif' font-size="11.7" fill="#30303a" stroke="#30303a" stroke-width="0.2">2.83</text>
<text x="1515.4" y="992.71" font-family='"Liberation Sans", sans-serif' font-size="13.7" fill="#1a1a1a" stroke="#1a1a1a" stroke-width="0.3">Encorafenib</text>
<text x="1170.65" y="1021.78" text-anchor="middle" font-family='"Liberation Sans", sans-serif' font-size="11.7" fill="#30303a" stroke="#30303a" stroke-width="0.2">6.76</text>
<text x="1268" y="1021.78" text-anchor="middle" font-family='"Liberation Sans", sans-serif' font-size="11.7" fill="#30303a" stroke="#30303a" stroke-width="0.2">6.75</text>
<text x="1365.3" y="1021.78" text-anchor="middle" font-family='"Liberation Sans", sans-serif' font-size="11.7" fill="#30303a" stroke="#30303a" stroke-width="0.2">6.27</text>
<text x="1462.65" y="1021.78" text-anchor="middle" font-family='"Liberation Sans", sans-serif' font-size="11.7" fill="#30303a" stroke="#30303a" stroke-width="0.2">2.65</text>
<text x="1515.4" y="1022.58" font-family='"Liberation Sans", sans-serif' font-size="13.7" fill="#1a1a1a" stroke="#1a1a1a" stroke-width="0.3">Bevacizumab</text>
<text x="1170.65" y="1051.66" text-anchor="middle" font-family='"Liberation Sans", sans-serif' font-size="11.7" fill="#30303a" stroke="#30303a" stroke-width="0.2">4.06</text>
<text x="1268" y="1051.66" text-anchor="middle" font-family='"Liberation Sans", sans-serif' font-size="11.7" fill="#30303a" stroke="#30303a" stroke-width="0.2">4.06</text>
<text x="1365.3" y="1051.66" text-anchor="middle" font-family='"Liberation Sans", sans-serif' font-size="11.7" fill="#30303a" stroke="#30303a" stroke-width="0.2">4.05</text>
<text x="1462.65" y="1051.66" text-anchor="middle" font-family='"Liberation Sans", sans-serif' font-size="11.7" fill="#30303a" stroke="#30303a" stroke-width="0.2">2.02</text>
<text x="1515.4" y="1052.46" font-family='"Liberation Sans", sans-serif' font-size="13.7" fill="#1a1a1a" stroke="#1a1a1a" stroke-width="0.3">Dabrafenib</text>
<text x="1170.65" y="1081.54" text-anchor="middle" font-family='"Liberation Sans", sans-serif' font-size="11.7" fill="#30303a" stroke="#30303a" stroke-width="0.2">64.16</text>
<text x="1268" y="1081.54" text-anchor="middle" font-family='"Liberation Sans", sans-serif' font-size="11.7" fill="#30303a" stroke="#30303a" stroke-width="0.2">63.55</text>
<text x="1365.3" y="1081.54" text-anchor="middle" font-family='"Liberation Sans", sans-serif' font-size="11.7" fill="#30303a" stroke="#30303a" stroke-width="0.2">63.01</text>
<text x="1462.65" y="1081.54" text-anchor="middle" font-family='"Liberation Sans", sans-serif' font-size="11.7" fill="#30303a" stroke="#30303a" stroke-width="0.2">5.98</text>
<text x="1515.4" y="1082.34" font-family='"Liberation Sans", sans-serif' font-size="13.7" fill="#1a1a1a" stroke="#1a1a1a" stroke-width="0.3">Dexamethasone</text>
<text x="1170.65" y="1111.41" text-anchor="middle" font-family='"Liberation Sans", sans-serif' font-size="11.7" fill="#30303a" stroke="#30303a" stroke-width="0.2">46.16</text>
<text x="1268" y="1111.41" text-anchor="middle" font-family='"Liberation Sans", sans-serif' font-size="11.7" fill="#30303a" stroke="#30303a" stroke-width="0.2">45.85</text>
<text x="1365.3" y="1111.41" text-anchor="middle" font-family='"Liberation Sans", sans-serif' font-size="11.7" fill="#30303a" stroke="#30303a" stroke-width="0.2">45.57</text>
<text x="1462.65" y="1111.41" text-anchor="middle" font-family='"Liberation Sans", sans-serif' font-size="11.7" fill="#30303a" stroke="#30303a" stroke-width="0.2">5.51</text>
<text x="1515.4" y="1112.21" font-family='"Liberation Sans", sans-serif' font-size="13.7" fill="#1a1a1a" stroke="#1a1a1a" stroke-width="0.3">Fluocinolone acetonide</text>
<text x="1170.65" y="1141.29" text-anchor="middle" font-family='"Liberation Sans", sans-serif' font-size="11.7" fill="#30303a" stroke="#30303a" stroke-width="0.2">25.73</text>
<text x="1268" y="1141.29" text-anchor="middle" font-family='"Liberation Sans", sans-serif' font-size="11.7" fill="#30303a" stroke="#30303a" stroke-width="0.2">25.64</text>
<text x="1365.3" y="1141.29" text-anchor="middle" font-family='"Liberation Sans", sans-serif' font-size="11.7" fill="#30303a" stroke="#30303a" stroke-width="0.2">25.62</text>
<text x="1462.65" y="1141.29" text-anchor="middle" font-family='"Liberation Sans", sans-serif' font-size="11.7" fill="#30303a" stroke="#30303a" stroke-width="0.2">4.68</text>
<text x="1515.4" y="1142.09" font-family='"Liberation Sans", sans-serif' font-size="13.7" fill="#1a1a1a" stroke="#1a1a1a" stroke-width="0.3">Difluprednate</text>
<text x="1170.65" y="1171.16" text-anchor="middle" font-family='"Liberation Sans", sans-serif' font-size="11.7" fill="#30303a" stroke="#30303a" stroke-width="0.2">13.28</text>
<text x="1268" y="1171.16" text-anchor="middle" font-family='"Liberation Sans", sans-serif' font-size="11.7" fill="#30303a" stroke="#30303a" stroke-width="0.2">13.25</text>
<text x="1365.3" y="1171.16" text-anchor="middle" font-family='"Liberation Sans", sans-serif' font-size="11.7" fill="#30303a" stroke="#30303a" stroke-width="0.2">13.08</text>
<text x="1462.65" y="1171.16" text-anchor="middle" font-family='"Liberation Sans", sans-serif' font-size="11.7" fill="#30303a" stroke="#30303a" stroke-width="0.2">3.71</text>
<text x="1515.4" y="1171.96" font-family='"Liberation Sans", sans-serif' font-size="13.7" fill="#1a1a1a" stroke="#1a1a1a" stroke-width="0.3">Triamcinolone</text>
<text x="1170.65" y="1201.04" text-anchor="middle" font-family='"Liberation Sans", sans-serif' font-size="11.7" fill="#30303a" stroke="#30303a" stroke-width="0.2">7.47</text>
<text x="1268" y="1201.04" text-anchor="middle" font-family='"Liberation Sans", sans-serif' font-size="11.7" fill="#30303a" stroke="#30303a" stroke-width="0.2">7.47</text>
<text x="1365.3" y="1201.04" text-anchor="middle" font-family='"Liberation Sans", sans-serif' font-size="11.7" fill="#30303a" stroke="#30303a" stroke-width="0.2">7.46</text>
<text x="1462.65" y="1201.04" text-anchor="middle" font-family='"Liberation Sans", sans-serif' font-size="11.7" fill="#30303a" stroke="#30303a" stroke-width="0.2">2.90</text>
<text x="1515.4" y="1201.84" font-family='"Liberation Sans", sans-serif' font-size="13.7" fill="#1a1a1a" stroke="#1a1a1a" stroke-width="0.3">Corticotropin</text>
<text x="1170.65" y="1230.92" text-anchor="middle" font-family='"Liberation Sans", sans-serif' font-size="11.7" fill="#30303a" stroke="#30303a" stroke-width="0.2">5.20</text>
<text x="1268" y="1230.92" text-anchor="middle" font-family='"Liberation Sans", sans-serif' font-size="11.7" fill="#30303a" stroke="#30303a" stroke-width="0.2">5.20</text>
<text x="1365.3" y="1230.92" text-anchor="middle" font-family='"Liberation Sans", sans-serif' font-size="11.7" fill="#30303a" stroke="#30303a" stroke-width="0.2">5.20</text>
<text x="1462.65" y="1230.92" text-anchor="middle" font-family='"Liberation Sans", sans-serif' font-size="11.7" fill="#30303a" stroke="#30303a" stroke-width="0.2">2.38</text>
<text x="1515.4" y="1231.72" font-family='"Liberation Sans", sans-serif' font-size="13.7" fill="#1a1a1a" stroke="#1a1a1a" stroke-width="0.3">Raloxifene</text>
<text x="1170.65" y="1260.79" text-anchor="middle" font-family='"Liberation Sans", sans-serif' font-size="11.7" fill="#30303a" stroke="#30303a" stroke-width="0.2">3.31</text>
<text x="1268" y="1260.79" text-anchor="middle" font-family='"Liberation Sans", sans-serif' font-size="11.7" fill="#30303a" stroke="#30303a" stroke-width="0.2">3.30</text>
<text x="1365.3" y="1260.79" text-anchor="middle" font-family='"Liberation Sans", sans-serif' font-size="11.7" fill="#30303a" stroke="#30303a" stroke-width="0.2">3.30</text>
<text x="1462.65" y="1260.79" text-anchor="middle" font-family='"Liberation Sans", sans-serif' font-size="11.7" fill="#30303a" stroke="#30303a" stroke-width="0.2">1.72</text>
<text x="1515.4" y="1261.59" font-family='"Liberation Sans", sans-serif' font-size="13.7" fill="#1a1a1a" stroke="#1a1a1a" stroke-width="0.3">Finasteride</text>
<text x="1170.65" y="1290.67" text-anchor="middle" font-family='"Liberation Sans", sans-serif' font-size="11.7" fill="#30303a" stroke="#30303a" stroke-width="0.2">8.15</text>
<text x="1268" y="1290.67" text-anchor="middle" font-family='"Liberation Sans", sans-serif' font-size="11.7" fill="#30303a" stroke="#30303a" stroke-width="0.2">8.14</text>
<text x="1365.3" y="1290.67" text-anchor="middle" font-family='"Liberation Sans", sans-serif' font-size="11.7" fill="#30303a" stroke="#30303a" stroke-width="0.2">8.13</text>
<text x="1462.65" y="1290.67" text-anchor="middle" font-family='"Liberation Sans", sans-serif' font-size="11.7" fill="#30303a" stroke="#30303a" stroke-width="0.2">3.02</text>
<text x="1515.4" y="1291.47" font-family='"Liberation Sans", sans-serif' font-size="13.7" fill="#1a1a1a" stroke="#1a1a1a" stroke-width="0.3">Clofazimine</text>
<text x="1170.65" y="1320.55" text-anchor="middle" font-family='"Liberation Sans", sans-serif' font-size="11.7" fill="#30303a" stroke="#30303a" stroke-width="0.2">5.31</text>
<text x="1268" y="1320.55" text-anchor="middle" font-family='"Liberation Sans", sans-serif' font-size="11.7" fill="#30303a" stroke="#30303a" stroke-width="0.2">5.31</text>
<text x="1365.3" y="1320.55" text-anchor="middle" font-family='"Liberation Sans", sans-serif' font-size="11.7" fill="#30303a" stroke="#30303a" stroke-width="0.2">5.30</text>
<text x="1462.65" y="1320.55" text-anchor="middle" font-family='"Liberation Sans", sans-serif' font-size="11.7" fill="#30303a" stroke="#30303a" stroke-width="0.2">2.41</text>
<text x="1515.4" y="1321.35" font-family='"Liberation Sans", sans-serif' font-size="13.7" fill="#1a1a1a" stroke="#1a1a1a" stroke-width="0.3">Terbinafine</text>
<text x="1170.65" y="1350.42" text-anchor="middle" font-family='"Liberation Sans", sans-serif' font-size="11.7" fill="#30303a" stroke="#30303a" stroke-width="0.2">4.03</text>
<text x="1268" y="1350.42" text-anchor="middle" font-family='"Liberation Sans", sans-serif' font-size="11.7" fill="#30303a" stroke="#30303a" stroke-width="0.2">4.03</text>
<text x="1365.3" y="1350.42" text-anchor="middle" font-family='"Liberation Sans", sans-serif' font-size="11.7" fill="#30303a" stroke="#30303a" stroke-width="0.2">3.97</text>
<text x="1462.65" y="1350.42" text-anchor="middle" font-family='"Liberation Sans", sans-serif' font-size="11.7" fill="#30303a" stroke="#30303a" stroke-width="0.2">1.99</text>
<text x="1515.4" y="1351.22" font-family='"Liberation Sans", sans-serif' font-size="13.7" fill="#1a1a1a" stroke="#1a1a1a" stroke-width="0.3">Ciprofloxacin</text>
<text x="1170.65" y="1380.3" text-anchor="middle" font-family='"Liberation Sans", sans-serif' font-size="11.7" fill="#30303a" stroke="#30303a" stroke-width="0.2">3.85</text>
<text x="1268" y="1380.3" text-anchor="middle" font-family='"Liberation Sans", sans-serif' font-size="11.7" fill="#30303a" stroke="#30303a" stroke-width="0.2">3.85</text>
<text x="1365.3" y="1380.3" text-anchor="middle" font-family='"Liberation Sans", sans-serif' font-size="11.7" fill="#30303a" stroke="#30303a" stroke-width="0.2">3.83</text>
<text x="1462.65" y="1380.3" text-anchor="middle" font-family='"Liberation Sans", sans-serif' font-size="11.7" fill="#30303a" stroke="#30303a" stroke-width="0.2">1.94</text>
<text x="1515.4" y="1381.1" font-family='"Liberation Sans", sans-serif' font-size="13.7" fill="#1a1a1a" stroke="#1a1a1a" stroke-width="0.3">Voriconazole</text>
<text x="1170.65" y="1410.17" text-anchor="middle" font-family='"Liberation Sans", sans-serif' font-size="11.7" fill="#30303a" stroke="#30303a" stroke-width="0.2">11.64</text>
<text x="1268" y="1410.17" text-anchor="middle" font-family='"Liberation Sans", sans-serif' font-size="11.7" fill="#30303a" stroke="#30303a" stroke-width="0.2">11.62</text>
<text x="1365.3" y="1410.17" text-anchor="middle" font-family='"Liberation Sans", sans-serif' font-size="11.7" fill="#30303a" stroke="#30303a" stroke-width="0.2">11.59</text>
<text x="1462.65" y="1410.17" text-anchor="middle" font-family='"Liberation Sans", sans-serif' font-size="11.7" fill="#30303a" stroke="#30303a" stroke-width="0.2">3.54</text>
<text x="1515.4" y="1410.97" font-family='"Liberation Sans", sans-serif' font-size="13.7" fill="#1a1a1a" stroke="#1a1a1a" stroke-width="0.3">Cyclosporine</text>
<text x="1170.65" y="1440.05" text-anchor="middle" font-family='"Liberation Sans", sans-serif' font-size="11.7" fill="#30303a" stroke="#30303a" stroke-width="0.2">4.70</text>
<text x="1268" y="1440.05" text-anchor="middle" font-family='"Liberation Sans", sans-serif' font-size="11.7" fill="#30303a" stroke="#30303a" stroke-width="0.2">4.70</text>
<text x="1365.3" y="1440.05" text-anchor="middle" font-family='"Liberation Sans", sans-serif' font-size="11.7" fill="#30303a" stroke="#30303a" stroke-width="0.2">4.70</text>
<text x="1462.65" y="1440.05" text-anchor="middle" font-family='"Liberation Sans", sans-serif' font-size="11.7" fill="#30303a" stroke="#30303a" stroke-width="0.2">2.23</text>
<text x="1515.4" y="1440.85" font-family='"Liberation Sans", sans-serif' font-size="13.7" fill="#1a1a1a" stroke="#1a1a1a" stroke-width="0.3">Siponimod</text>
<text x="1170.65" y="1469.93" text-anchor="middle" font-family='"Liberation Sans", sans-serif' font-size="11.7" fill="#30303a" stroke="#30303a" stroke-width="0.2">4.20</text>
<text x="1268" y="1469.93" text-anchor="middle" font-family='"Liberation Sans", sans-serif' font-size="11.7" fill="#30303a" stroke="#30303a" stroke-width="0.2">4.20</text>
<text x="1365.3" y="1469.93" text-anchor="middle" font-family='"Liberation Sans", sans-serif' font-size="11.7" fill="#30303a" stroke="#30303a" stroke-width="0.2">4.15</text>
<text x="1462.65" y="1469.93" text-anchor="middle" font-family='"Liberation Sans", sans-serif' font-size="11.7" fill="#30303a" stroke="#30303a" stroke-width="0.2">2.05</text>
<text x="1515.4" y="1470.73" font-family='"Liberation Sans", sans-serif' font-size="13.7" fill="#1a1a1a" stroke="#1a1a1a" stroke-width="0.3">Fingolimod</text>
<text x="1170.65" y="1499.8" text-anchor="middle" font-family='"Liberation Sans", sans-serif' font-size="11.7" fill="#30303a" stroke="#30303a" stroke-width="0.2">42.96</text>
<text x="1268" y="1499.8" text-anchor="middle" font-family='"Liberation Sans", sans-serif' font-size="11.7" fill="#30303a" stroke="#30303a" stroke-width="0.2">42.68</text>
<text x="1365.3" y="1499.8" text-anchor="middle" font-family='"Liberation Sans", sans-serif' font-size="11.7" fill="#30303a" stroke="#30303a" stroke-width="0.2">42.64</text>
<text x="1462.65" y="1499.8" text-anchor="middle" font-family='"Liberation Sans", sans-serif' font-size="11.7" fill="#30303a" stroke="#30303a" stroke-width="0.2">5.41</text>
<text x="1515.4" y="1500.6" font-family='"Liberation Sans", sans-serif' font-size="13.7" fill="#1a1a1a" stroke="#1a1a1a" stroke-width="0.3">Oxymetazoline</text>
<text x="1170.65" y="1529.68" text-anchor="middle" font-family='"Liberation Sans", sans-serif' font-size="11.7" fill="#30303a" stroke="#30303a" stroke-width="0.2">18.56</text>
<text x="1268" y="1529.68" text-anchor="middle" font-family='"Liberation Sans", sans-serif' font-size="11.7" fill="#30303a" stroke="#30303a" stroke-width="0.2">18.51</text>
<text x="1365.3" y="1529.68" text-anchor="middle" font-family='"Liberation Sans", sans-serif' font-size="11.7" fill="#30303a" stroke="#30303a" stroke-width="0.2">18.49</text>
<text x="1462.65" y="1529.68" text-anchor="middle" font-family='"Liberation Sans", sans-serif' font-size="11.7" fill="#30303a" stroke="#30303a" stroke-width="0.2">4.21</text>
<text x="1515.4" y="1530.48" font-family='"Liberation Sans", sans-serif' font-size="13.7" fill="#1a1a1a" stroke="#1a1a1a" stroke-width="0.3">Pentosan polysulfate</text>
<text x="1170.65" y="1559.56" text-anchor="middle" font-family='"Liberation Sans", sans-serif' font-size="11.7" fill="#30303a" stroke="#30303a" stroke-width="0.2">9.85</text>
<text x="1268" y="1559.56" text-anchor="middle" font-family='"Liberation Sans", sans-serif' font-size="11.7" fill="#30303a" stroke="#30303a" stroke-width="0.2">9.84</text>
<text x="1365.3" y="1559.56" text-anchor="middle" font-family='"Liberation Sans", sans-serif' font-size="11.7" fill="#30303a" stroke="#30303a" stroke-width="0.2">9.82</text>
<text x="1462.65" y="1559.56" text-anchor="middle" font-family='"Liberation Sans", sans-serif' font-size="11.7" fill="#30303a" stroke="#30303a" stroke-width="0.2">3.30</text>
<text x="1515.4" y="1560.36" font-family='"Liberation Sans", sans-serif' font-size="13.7" fill="#1a1a1a" stroke="#1a1a1a" stroke-width="0.3">Patisiran</text>
<text x="1170.65" y="1589.43" text-anchor="middle" font-family='"Liberation Sans", sans-serif' font-size="11.7" fill="#30303a" stroke="#30303a" stroke-width="0.2">6.42</text>
<text x="1268" y="1589.43" text-anchor="middle" font-family='"Liberation Sans", sans-serif' font-size="11.7" fill="#30303a" stroke="#30303a" stroke-width="0.2">6.42</text>
<text x="1365.3" y="1589.43" text-anchor="middle" font-family='"Liberation Sans", sans-serif' font-size="11.7" fill="#30303a" stroke="#30303a" stroke-width="0.2">6.41</text>
<text x="1462.65" y="1589.43" text-anchor="middle" font-family='"Liberation Sans", sans-serif' font-size="11.7" fill="#30303a" stroke="#30303a" stroke-width="0.2">2.68</text>
<text x="1515.4" y="1590.23" font-family='"Liberation Sans", sans-serif' font-size="13.7" fill="#1a1a1a" stroke="#1a1a1a" stroke-width="0.3">Tadalafil</text>
<text x="1170.65" y="1619.31" text-anchor="middle" font-family='"Liberation Sans", sans-serif' font-size="11.7" fill="#30303a" stroke="#30303a" stroke-width="0.2">5.96</text>
<text x="1268" y="1619.31" text-anchor="middle" font-family='"Liberation Sans", sans-serif' font-size="11.7" fill="#30303a" stroke="#30303a" stroke-width="0.2">5.95</text>
<text x="1365.3" y="1619.31" text-anchor="middle" font-family='"Liberation Sans", sans-serif' font-size="11.7" fill="#30303a" stroke="#30303a" stroke-width="0.2">5.94</text>
<text x="1462.65" y="1619.31" text-anchor="middle" font-family='"Liberation Sans", sans-serif' font-size="11.7" fill="#30303a" stroke="#30303a" stroke-width="0.2">2.57</text>
<text x="1515.4" y="1620.11" font-family='"Liberation Sans", sans-serif' font-size="13.7" fill="#1a1a1a" stroke="#1a1a1a" stroke-width="0.3">Sildenafil</text>
<text x="1170.65" y="1649.19" text-anchor="middle" font-family='"Liberation Sans", sans-serif' font-size="11.7" fill="#30303a" stroke="#30303a" stroke-width="0.2">5.47</text>
<text x="1268" y="1649.19" text-anchor="middle" font-family='"Liberation Sans", sans-serif' font-size="11.7" fill="#30303a" stroke="#30303a" stroke-width="0.2">5.47</text>
<text x="1365.3" y="1649.19" text-anchor="middle" font-family='"Liberation Sans", sans-serif' font-size="11.7" fill="#30303a" stroke="#30303a" stroke-width="0.2">5.46</text>
<text x="1462.65" y="1649.19" text-anchor="middle" font-family='"Liberation Sans", sans-serif' font-size="11.7" fill="#30303a" stroke="#30303a" stroke-width="0.2">2.45</text>
<text x="1515.4" y="1649.99" font-family='"Liberation Sans", sans-serif' font-size="13.7" fill="#1a1a1a" stroke="#1a1a1a" stroke-width="0.3">Inotersen</text>
<text x="1170.65" y="1679.06" text-anchor="middle" font-family='"Liberation Sans", sans-serif' font-size="11.7" fill="#30303a" stroke="#30303a" stroke-width="0.2">4.40</text>
<text x="1268" y="1679.06" text-anchor="middle" font-family='"Liberation Sans", sans-serif' font-size="11.7" fill="#30303a" stroke="#30303a" stroke-width="0.2">4.40</text>
<text x="1365.3" y="1679.06" text-anchor="middle" font-family='"Liberation Sans", sans-serif' font-size="11.7" fill="#30303a" stroke="#30303a" stroke-width="0.2">4.39</text>
<text x="1462.65" y="1679.06" text-anchor="middle" font-family='"Liberation Sans", sans-serif' font-size="11.7" fill="#30303a" stroke="#30303a" stroke-width="0.2">2.13</text>
<text x="1515.4" y="1679.86" font-family='"Liberation Sans", sans-serif' font-size="13.7" fill="#1a1a1a" stroke="#1a1a1a" stroke-width="0.3">Botulinum toxin type A</text>
<text transform="translate(1176.15 1702.5) rotate(-45)" text-anchor="end" font-family='"Liberation Sans", sans-serif' font-size="13" fill="#1a1a1a" stroke="#1a1a1a" stroke-width="0.25">ROR</text>
<text transform="translate(1273.5 1702.5) rotate(-45)" text-anchor="end" font-family='"Liberation Sans", sans-serif' font-size="13" fill="#1a1a1a" stroke="#1a1a1a" stroke-width="0.25">PRR</text>
<text transform="translate(1370.8 1702.5) rotate(-45)" text-anchor="end" font-family='"Liberation Sans", sans-serif' font-size="13" fill="#1a1a1a" stroke="#1a1a1a" stroke-width="0.25">MGPS</text>
<text transform="translate(1468.15 1702.5) rotate(-45)" text-anchor="end" font-family='"Liberation Sans", sans-serif' font-size="13" fill="#1a1a1a" stroke="#1a1a1a" stroke-width="0.25">BCPNN</text>
<defs><linearGradient id="lg" x1="0" x2="0" y1="0" y2="1">
<stop offset="0" stop-color="#5472aa"/>
<stop offset="0.04" stop-color="#5978b0"/>
<stop offset="0.08" stop-color="#5e7fb5"/>
<stop offset="0.12" stop-color="#6285bb"/>
<stop offset="0.17" stop-color="#678cc0"/>
<stop offset="0.21" stop-color="#6c92c6"/>
<stop offset="0.25" stop-color="#7199cb"/>
<stop offset="0.29" stop-color="#759fd1"/>
<stop offset="0.33" stop-color="#7aa5d6"/>
<stop offset="0.38" stop-color="#7facdc"/>
<stop offset="0.42" stop-color="#84b2e1"/>
<stop offset="0.46" stop-color="#88b9e7"/>
<stop offset="0.5" stop-color="#8dbfec"/>
<stop offset="0.54" stop-color="#94c2ed"/>
<stop offset="0.58" stop-color="#9bc5ee"/>
<stop offset="0.62" stop-color="#a2c9ee"/>
<stop offset="0.67" stop-color="#a8ccef"/>
<stop offset="0.71" stop-color="#afcff0"/>
<stop offset="0.75" stop-color="#b6d2f1"/>
<stop offset="0.79" stop-color="#bdd5f1"/>
<stop offset="0.83" stop-color="#c6dbe8"/>
<stop offset="0.88" stop-color="#cddfe9"/>
<stop offset="0.92" stop-color="#d3e2ea"/>
<stop offset="0.96" stop-color="#dae5ea"/>
<stop offset="1" stop-color="#e1e8eb"/>
</linearGradient></defs>
<rect x="1663.4" y="713.7" width="14.4" height="208.5" fill="url(#lg)"/>
<text x="1682.5" y="734.1" font-family='"Liberation Sans", sans-serif' font-size="13" fill="#1a1a1a" stroke="#1a1a1a" stroke-width="0.25">500</text>
<text x="1682.5" y="772.9" font-family='"Liberation Sans", sans-serif' font-size="13" fill="#1a1a1a" stroke="#1a1a1a" stroke-width="0.25">400</text>
<text x="1682.5" y="811.7" font-family='"Liberation Sans", sans-serif' font-size="13" fill="#1a1a1a" stroke="#1a1a1a" stroke-width="0.25">300</text>
<text x="1682.5" y="850.5" font-family='"Liberation Sans", sans-serif' font-size="13" fill="#1a1a1a" stroke="#1a1a1a" stroke-width="0.25">200</text>
<text x="1682.5" y="889.3" font-family='"Liberation Sans", sans-serif' font-size="13" fill="#1a1a1a" stroke="#1a1a1a" stroke-width="0.25">100</text>
<path d="M526.2,558.4 V1691.0 M595.97,558.4 V1691.0 M665.74,558.4 V1691.0 M735.51,558.4 V1691.0 M805.28,558.4 V1691.0 M875.05,558.4 V1691.0 M944.82,558.4 V1691.0 M1014.59,558.4 V1691.0 M1084.36,558.4 V1691.0 M498.6,575.7 H1122.2 M498.6,605.38 H1122.2 M498.6,635.06 H1122.2 M498.6,664.74 H1122.2 M498.6,694.42 H1122.2 M498.6,724.1 H1122.2 M498.6,753.78 H1122.2 M498.6,783.46 H1122.2 M498.6,813.14 H1122.2 M498.6,842.82 H1122.2 M498.6,872.5 H1122.2 M498.6,902.18 H1122.2 M498.6,931.86 H1122.2 M498.6,961.54 H1122.2 M498.6,991.22 H1122.2 M498.6,1020.9 H1122.2 M498.6,1050.58 H1122.2 M498.6,1080.26 H1122.2 M498.6,1109.94 H1122.2 M498.6,1139.62 H1122.2 M498.6,1169.3 H1122.2 M498.6,1198.98 H1122.2 M498.6,1228.66 H1122.2 M498.6,1258.34 H1122.2 M498.6,1288.02 H1122.2 M498.6,1317.7 H1122.2 M498.6,1347.38 H1122.2 M498.6,1377.06 H1122.2 M498.6,1406.74 H1122.2 M498.6,1436.42 H1122.2 M498.6,1466.1 H1122.2 M498.6,1495.78 H1122.2 M498.6,1525.46 H1122.2 M498.6,1555.14 H1122.2 M498.6,1584.82 H1122.2 M498.6,1614.5 H1122.2 M498.6,1644.18 H1122.2 M498.6,1673.86 H1122.2" stroke="#d4d2d8" stroke-width="1.15" fill="none"/>
<rect x="498.6" y="558.4" width="623.6" height="1132.6" fill="none" stroke="#c2bfc6" stroke-width="1.5"/>
<text x="490.6" y="580.7" text-anchor="end" font-family='"Liberation Sans", sans-serif' font-size="12.4" fill="#000" stroke="#000" stroke-width="0.35">Brolucizumab</text>
<text x="490.6" y="610.38" text-anchor="end" font-family='"Liberation Sans", sans-serif' font-size="12.4" fill="#000" stroke="#000" stroke-width="0.35">Pegcetacoplan</text>
<text x="490.6" y="640.06" text-anchor="end" font-family='"Liberation Sans", sans-serif' font-size="12.4" fill="#000" stroke="#000" stroke-width="0.35">Voretigene neparvovec</text>
<text x="490.6" y="669.74" text-anchor="end" font-family='"Liberation Sans", sans-serif' font-size="12.4" fill="#000" stroke="#000" stroke-width="0.35">Ocriplasmin</text>
<text x="490.6" y="699.42" text-anchor="end" font-family='"Liberation Sans", sans-serif' font-size="12.4" fill="#000" stroke="#000" stroke-width="0.35">Pilocarpine</text>
<text x="490.6" y="729.1" text-anchor="end" font-family='"Liberation Sans", sans-serif' font-size="12.4" fill="#000" stroke="#000" stroke-width="0.35">Faricimab</text>
<text x="490.6" y="758.78" text-anchor="end" font-family='"Liberation Sans", sans-serif' font-size="12.4" fill="#000" stroke="#000" stroke-width="0.35">Aflibercept</text>
<text x="490.6" y="788.46" text-anchor="end" font-family='"Liberation Sans", sans-serif' font-size="12.4" fill="#000" stroke="#000" stroke-width="0.35">Ranibizumab</text>
<text x="490.6" y="818.14" text-anchor="end" font-family='"Liberation Sans", sans-serif' font-size="12.4" fill="#000" stroke="#000" stroke-width="0.35">Brimonidine</text>
<text x="490.6" y="847.82" text-anchor="end" font-family='"Liberation Sans", sans-serif' font-size="12.4" fill="#000" stroke="#000" stroke-width="0.35">Latanoprost</text>
<text x="490.6" y="877.5" text-anchor="end" font-family='"Liberation Sans", sans-serif' font-size="12.4" fill="#000" stroke="#000" stroke-width="0.35">Lifitegrast</text>
<text x="490.6" y="907.18" text-anchor="end" font-family='"Liberation Sans", sans-serif' font-size="12.4" fill="#000" stroke="#000" stroke-width="0.35">Crizotinib</text>
<text x="490.6" y="936.86" text-anchor="end" font-family='"Liberation Sans", sans-serif' font-size="12.4" fill="#000" stroke="#000" stroke-width="0.35">Binimetinib</text>
<text x="490.6" y="966.54" text-anchor="end" font-family='"Liberation Sans", sans-serif' font-size="12.4" fill="#000" stroke="#000" stroke-width="0.35">Trametinib</text>
<text x="490.6" y="996.22" text-anchor="end" font-family='"Liberation Sans", sans-serif' font-size="12.4" fill="#000" stroke="#000" stroke-width="0.35">Encorafenib</text>
<text x="490.6" y="1025.9" text-anchor="end" font-family='"Liberation Sans", sans-serif' font-size="12.4" fill="#000" stroke="#000" stroke-width="0.35">Bevacizumab</text>
<text x="490.6" y="1055.58" text-anchor="end" font-family='"Liberation Sans", sans-serif' font-size="12.4" fill="#000" stroke="#000" stroke-width="0.35">Dabrafenib</text>
<text x="490.6" y="1085.26" text-anchor="end" font-family='"Liberation Sans", sans-serif' font-size="12.4" fill="#000" stroke="#000" stroke-width="0.35">Dexamethasone</text>
<text x="490.6" y="1114.94" text-anchor="end" font-family='"Liberation Sans", sans-serif' font-size="12.4" fill="#000" stroke="#000" stroke-width="0.35">Fluocinolone acetonide</text>
<text x="490.6" y="1144.62" text-anchor="end" font-family='"Liberation Sans", sans-serif' font-size="12.4" fill="#000" stroke="#000" stroke-width="0.35">Difluprednate</text>
<text x="490.6" y="1174.3" text-anchor="end" font-family='"Liberation Sans", sans-serif' font-size="12.4" fill="#000" stroke="#000" stroke-width="0.35">Triamcinolone</text>
<text x="490.6" y="1203.98" text-anchor="end" font-family='"Liberation Sans", sans-serif' font-size="12.4" fill="#000" stroke="#000" stroke-width="0.35">Corticotropin</text>
<text x="490.6" y="1233.66" text-anchor="end" font-family='"Liberation Sans", sans-serif' font-size="12.4" fill="#000" stroke="#000" stroke-width="0.35">Raloxifene</text>
<text x="490.6" y="1263.34" text-anchor="end" font-family='"Liberation Sans", sans-serif' font-size="12.4" fill="#000" stroke="#000" stroke-width="0.35">Finasteride</text>
<text x="490.6" y="1293.02" text-anchor="end" font-family='"Liberation Sans", sans-serif' font-size="12.4" fill="#000" stroke="#000" stroke-width="0.35">Clofazimine</text>
<text x="490.6" y="1322.7" text-anchor="end" font-family='"Liberation Sans", sans-serif' font-size="12.4" fill="#000" stroke="#000" stroke-width="0.35">Terbinafine</text>
<text x="490.6" y="1352.38" text-anchor="end" font-family='"Liberation Sans", sans-serif' font-size="12.4" fill="#000" stroke="#000" stroke-width="0.35">Ciprofloxacin</text>
<text x="490.6" y="1382.06" text-anchor="end" font-family='"Liberation Sans", sans-serif' font-size="12.4" fill="#000" stroke="#000" stroke-width="0.35">Voriconazole</text>
<text x="490.6" y="1411.74" text-anchor="end" font-family='"Liberation Sans", sans-serif' font-size="12.4" fill="#000" stroke="#000" stroke-width="0.35">Cyclosporine</text>
<text x="490.6" y="1441.42" text-anchor="end" font-family='"Liberation Sans", sans-serif' font-size="12.4" fill="#000" stroke="#000" stroke-width="0.35">Siponimod</text>
<text x="490.6" y="1471.1" text-anchor="end" font-family='"Liberation Sans", sans-serif' font-size="12.4" fill="#000" stroke="#000" stroke-width="0.35">Fingolimod</text>
<text x="490.6" y="1500.78" text-anchor="end" font-family='"Liberation Sans", sans-serif' font-size="12.4" fill="#000" stroke="#000" stroke-width="0.35">Oxymetazoline</text>
<text x="490.6" y="1530.46" text-anchor="end" font-family='"Liberation Sans", sans-serif' font-size="12.4" fill="#000" stroke="#000" stroke-width="0.35">Pentosan polysulfate</text>
<text x="490.6" y="1560.14" text-anchor="end" font-family='"Liberation Sans", sans-serif' font-size="12.4" fill="#000" stroke="#000" stroke-width="0.35">Patisiran</text>
<text x="490.6" y="1589.82" text-anchor="end" font-family='"Liberation Sans", sans-serif' font-size="12.4" fill="#000" stroke="#000" stroke-width="0.35">Tadalafil</text>
<text x="490.6" y="1619.5" text-anchor="end" font-family='"Liberation Sans", sans-serif' font-size="12.4" fill="#000" stroke="#000" stroke-width="0.35">Sildenafil</text>
<text x="490.6" y="1649.18" text-anchor="end" font-family='"Liberation Sans", sans-serif' font-size="12.4" fill="#000" stroke="#000" stroke-width="0.35">Inotersen</text>
<text x="490.6" y="1678.86" text-anchor="end" font-family='"Liberation Sans", sans-serif' font-size="12.4" fill="#000" stroke="#000" stroke-width="0.35">Botulinum toxin type A</text>
<text x="525.2" y="1707.3" text-anchor="middle" font-family='"Liberation Sans", sans-serif' font-size="12" fill="#222">0</text>
<text x="664.74" y="1707.3" text-anchor="middle" font-family='"Liberation Sans", sans-serif' font-size="12" fill="#222">200</text>
<text x="804.28" y="1707.3" text-anchor="middle" font-family='"Liberation Sans", sans-serif' font-size="12" fill="#222">400</text>
<text x="943.82" y="1707.3" text-anchor="middle" font-family='"Liberation Sans", sans-serif' font-size="12" fill="#222">600</text>
<text x="1083.36" y="1707.3" text-anchor="middle" font-family='"Liberation Sans", sans-serif' font-size="12" fill="#222">800</text>
<path d="M494.6,575.7 H498.6 M494.6,605.38 H498.6 M494.6,635.06 H498.6 M494.6,664.74 H498.6 M494.6,694.42 H498.6 M494.6,724.1 H498.6 M494.6,753.78 H498.6 M494.6,783.46 H498.6 M494.6,813.14 H498.6 M494.6,842.82 H498.6 M494.6,872.5 H498.6 M494.6,902.18 H498.6 M494.6,931.86 H498.6 M494.6,961.54 H498.6 M494.6,991.22 H498.6 M494.6,1020.9 H498.6 M494.6,1050.58 H498.6 M494.6,1080.26 H498.6 M494.6,1109.94 H498.6 M494.6,1139.62 H498.6 M494.6,1169.3 H498.6 M494.6,1198.98 H498.6 M494.6,1228.66 H498.6 M494.6,1258.34 H498.6 M494.6,1288.02 H498.6 M494.6,1317.7 H498.6 M494.6,1347.38 H498.6 M494.6,1377.06 H498.6 M494.6,1406.74 H498.6 M494.6,1436.42 H498.6 M494.6,1466.1 H498.6 M494.6,1495.78 H498.6 M494.6,1525.46 H498.6 M494.6,1555.14 H498.6 M494.6,1584.82 H498.6 M494.6,1614.5 H498.6 M494.6,1644.18 H498.6 M494.6,1673.86 H498.6 M526.2,1691.0 V1695.0 M665.74,1691.0 V1695.0 M805.28,1691.0 V1695.0 M944.82,1691.0 V1695.0 M1084.36,1691.0 V1695.0" stroke="#a8a8a8" stroke-width="1.1" fill="none"/>
<text x="810" y="1725.6" text-anchor="middle" font-family='"Liberation Sans", sans-serif' font-size="15" fill="#222">Reporting odds ratios (95%CI)</text>
<line x1="526.2" y1="566.4" x2="526.2" y2="1689.5" stroke="#d83a4c" stroke-width="2.2" stroke-linecap="round" stroke-dasharray="7.7 8.6 0.5 9"/>
<path d="M869.82,575.7 H938.19 M869.82,573.1 V578.3 M938.19,573.1 V578.3 M761.12,605.38 H931.01 M761.12,602.78 V607.98 M931.01,602.78 V607.98 M635.25,635.06 H1094.13 M635.25,632.46 V637.66 M1094.13,632.46 V637.66 M710.04,664.74 H822.37 M710.04,662.14 V667.34 M822.37,662.14 V667.34 M668.32,694.42 H828.44 M668.32,691.82 V697.02 M828.44,691.82 V697.02 M618.99,724.1 H660.02 M618.99,721.5 V726.7 M660.02,721.5 V726.7 M594.57,753.78 H608.88 M594.57,751.18 V756.38 M608.88,751.18 V756.38 M579.23,783.46 H589.69 M579.23,780.86 V786.06 M589.69,780.86 V786.06 M531.5,813.14 H557.81 M531.5,810.54 V815.74 M557.81,810.54 V815.74 M528.29,842.82 H532.48 M528.29,840.22 V845.42 M532.48,840.22 V845.42 M528.29,872.5 H532.48 M528.29,869.9 V875.1 M532.48,869.9 V875.1 M537.36,902.18 H549.92 M537.36,899.58 V904.78 M549.92,899.58 V904.78 M530.74,931.86 H555.15 M530.74,929.26 V934.46 M555.15,929.26 V934.46 M529.69,961.54 H537.36 M529.69,958.94 V964.14 M537.36,958.94 V964.14 M528.29,991.22 H537.36 M528.29,988.62 V993.82 M537.36,988.62 V993.82 M529.69,1020.9 H532.48 M529.69,1018.3 V1023.5 M532.48,1018.3 V1023.5 M527.6,1050.58 H531.78 M527.6,1047.98 V1053.18 M531.78,1047.98 V1053.18 M557.6,1080.26 H589.34 M557.6,1077.66 V1082.86 M589.34,1077.66 V1082.86 M547.13,1109.94 H574.48 M547.13,1107.34 V1112.54 M574.48,1107.34 V1112.54 M531.43,1139.62 H582.09 M531.43,1137.02 V1142.22 M582.09,1137.02 V1142.22 M532.48,1169.3 H539.46 M532.48,1166.7 V1171.9 M539.46,1166.7 V1171.9 M527.94,1198.98 H542.94 M527.94,1196.38 V1201.58 M542.94,1196.38 V1201.58 M527.6,1228.66 H535.27 M527.6,1226.06 V1231.26 M535.27,1226.06 V1231.26 M527.25,1258.34 H531.08 M527.25,1255.74 V1260.94 M531.08,1255.74 V1260.94 M528.29,1288.02 H544.34 M528.29,1285.42 V1290.62 M544.34,1285.42 V1290.62 M527.94,1317.7 H533.87 M527.94,1315.1 V1320.3 M533.87,1315.1 V1320.3 M528.29,1347.38 H530.04 M528.29,1344.78 V1349.98 M530.04,1344.78 V1349.98 M527.94,1377.06 H530.39 M527.94,1374.46 V1379.66 M530.39,1374.46 V1379.66 M528.29,1406.74 H541.13 M528.29,1404.14 V1409.34 M541.13,1404.14 V1409.34 M527.6,1436.42 H533.18 M527.6,1433.82 V1439.02 M533.18,1433.82 V1439.02 M527.94,1466.1 H531.08 M527.94,1463.5 V1468.7 M531.08,1463.5 V1468.7 M536.25,1495.78 H606.99 M536.25,1493.18 V1498.38 M606.99,1493.18 V1498.38 M528.29,1525.46 H557.6 M528.29,1522.86 V1528.06 M557.6,1522.86 V1528.06 M527.6,1555.14 H541.55 M527.6,1552.54 V1557.74 M541.55,1552.54 V1557.74 M528.29,1584.82 H536.67 M528.29,1582.22 V1587.42 M536.67,1582.22 V1587.42 M528.29,1614.5 H533.87 M528.29,1611.9 V1617.1 M533.87,1611.9 V1617.1 M527.6,1644.18 H534.57 M527.6,1641.58 V1646.78 M534.57,1641.58 V1646.78 M528.29,1673.86 H530.74 M528.29,1671.26 V1676.46 M530.74,1671.26 V1676.46" stroke="#7e7e7e" stroke-width="1.25" fill="none"/>
<line x1="531.89" y1="1376.06" x2="543" y2="1373.06" stroke="#555" stroke-width="1"/>
<path d="M895.24,575.7 L902.44,568.5 L909.64,575.7 L902.44,582.9Z M827.69,605.38 L834.89,598.18 L842.09,605.38 L834.89,612.58Z M768.25,635.06 L775.45,627.86 L782.65,635.06 L775.45,642.26Z M752.49,664.74 L759.69,657.54 L766.89,664.74 L759.69,671.94Z M726.67,694.42 L733.87,687.22 L741.07,694.42 L733.87,701.62Z M630.41,724.1 L637.61,716.9 L644.81,724.1 L637.61,731.3Z M594.48,753.78 L601.68,746.58 L608.88,753.78 L601.68,760.98Z M577.13,783.46 L584.33,776.26 L591.53,783.46 L584.33,790.66Z M532.08,813.14 L539.28,805.94 L546.48,813.14 L539.28,820.34Z M522.7,842.82 L529.9,835.62 L537.1,842.82 L529.9,850.02Z M522.61,872.5 L529.81,865.3 L537.01,872.5 L529.81,879.7Z M535.5,902.18 L542.7,894.98 L549.9,902.18 L542.7,909.38Z M529.74,931.86 L536.94,924.66 L544.14,931.86 L536.94,939.06Z M525.36,961.54 L532.56,954.34 L539.76,961.54 L532.56,968.74Z M523.96,991.22 L531.16,984.02 L538.36,991.22 L531.16,998.42Z M523.72,1020.9 L530.92,1013.7 L538.12,1020.9 L530.92,1028.1Z M521.83,1050.58 L529.03,1043.38 L536.23,1050.58 L529.03,1057.78Z M563.76,1080.26 L570.96,1073.06 L578.16,1080.26 L570.96,1087.46Z M551.21,1109.94 L558.41,1102.74 L565.61,1109.94 L558.41,1117.14Z M536.95,1139.62 L544.15,1132.42 L551.35,1139.62 L544.15,1146.82Z M528.27,1169.3 L535.47,1162.1 L542.67,1169.3 L535.47,1176.5Z M524.21,1198.98 L531.41,1191.78 L538.61,1198.98 L531.41,1206.18Z M522.63,1228.66 L529.83,1221.46 L537.03,1228.66 L529.83,1235.86Z M521.31,1258.34 L528.51,1251.14 L535.71,1258.34 L528.51,1265.54Z M524.69,1288.02 L531.89,1280.82 L539.09,1288.02 L531.89,1295.22Z M522.7,1317.7 L529.9,1310.5 L537.1,1317.7 L529.9,1324.9Z M521.81,1347.38 L529.01,1340.18 L536.21,1347.38 L529.01,1354.58Z M521.69,1377.06 L528.89,1369.86 L536.09,1377.06 L528.89,1384.26Z M527.12,1406.74 L534.32,1399.54 L541.52,1406.74 L534.32,1413.94Z M522.28,1436.42 L529.48,1429.22 L536.68,1436.42 L529.48,1443.62Z M521.93,1466.1 L529.13,1458.9 L536.33,1466.1 L529.13,1473.3Z M548.97,1495.78 L556.17,1488.58 L563.37,1495.78 L556.17,1502.98Z M531.95,1525.46 L539.15,1518.26 L546.35,1525.46 L539.15,1532.66Z M525.87,1555.14 L533.07,1547.94 L540.27,1555.14 L533.07,1562.34Z M523.48,1584.82 L530.68,1577.62 L537.88,1584.82 L530.68,1592.02Z M523.16,1614.5 L530.36,1607.3 L537.56,1614.5 L530.36,1621.7Z M522.82,1644.18 L530.02,1636.98 L537.22,1644.18 L530.02,1651.38Z M522.07,1673.86 L529.27,1666.66 L536.47,1673.86 L529.27,1681.06Z" fill="#5b9bd5"/>
<text x="931" y="573.2" text-anchor="middle" font-family='"Liberation Sans", sans-serif' font-size="15" fill="#444">539.26</text>
<text x="840.8" y="598" text-anchor="middle" font-family='"Liberation Sans", sans-serif' font-size="15" fill="#444">442.44</text>
<text x="780.7" y="628" text-anchor="middle" font-family='"Liberation Sans", sans-serif' font-size="15" fill="#444">357.24</text>
<text x="766.4" y="657" text-anchor="middle" font-family='"Liberation Sans", sans-serif' font-size="15" fill="#444">334.65</text>
<text x="726.9" y="710.7" text-anchor="middle" font-family='"Liberation Sans", sans-serif' font-size="15" fill="#444">297.65</text>
<text x="630.3" y="741.2" text-anchor="middle" font-family='"Liberation Sans", sans-serif' font-size="15" fill="#444">159.68</text>
<text x="594.3" y="770.5" text-anchor="middle" font-family='"Liberation Sans", sans-serif' font-size="15" fill="#444">108.18</text>
<text x="576.2" y="800.9" text-anchor="middle" font-family='"Liberation Sans", sans-serif' font-size="15" fill="#444">83.31</text>
<text x="531.5" y="831.4" text-anchor="middle" font-family='"Liberation Sans", sans-serif' font-size="15" fill="#444">18.75</text>
<text x="522.1" y="859.9" text-anchor="middle" font-family='"Liberation Sans", sans-serif' font-size="15" fill="#444">5.31</text>
<text x="522.5" y="888.9" text-anchor="middle" font-family='"Liberation Sans", sans-serif' font-size="15" fill="#444">5.18</text>
<text x="534.9" y="919.3" text-anchor="middle" font-family='"Liberation Sans", sans-serif' font-size="15" fill="#444">23.65</text>
<text x="543.1" y="948.6" text-anchor="middle" font-family='"Liberation Sans", sans-serif' font-size="15" fill="#444">15.39</text>
<text x="524.4" y="979.1" text-anchor="middle" font-family='"Liberation Sans", sans-serif' font-size="15" fill="#444">9.12</text>
<text x="536.4" y="1007.6" text-anchor="middle" font-family='"Liberation Sans", sans-serif' font-size="15" fill="#444">7.11</text>
<text x="536.4" y="1037.7" text-anchor="middle" font-family='"Liberation Sans", sans-serif' font-size="15" fill="#444">6.76</text>
<text x="521" y="1068.2" text-anchor="middle" font-family='"Liberation Sans", sans-serif' font-size="15" fill="#444">4.06</text>
<text x="575.7" y="1072.7" text-anchor="middle" font-family='"Liberation Sans", sans-serif' font-size="15" fill="#444">64.16</text>
<text x="563.6" y="1103.3" text-anchor="middle" font-family='"Liberation Sans", sans-serif' font-size="15" fill="#444">46.16</text>
<text x="549.5" y="1132.2" text-anchor="middle" font-family='"Liberation Sans", sans-serif' font-size="15" fill="#444">25.73</text>
<text x="541.5" y="1162.8" text-anchor="middle" font-family='"Liberation Sans", sans-serif' font-size="15" fill="#444">13.28</text>
<text x="536.7" y="1191.7" text-anchor="middle" font-family='"Liberation Sans", sans-serif' font-size="15" fill="#444">7.47</text>
<text x="521.8" y="1221.9" text-anchor="middle" font-family='"Liberation Sans", sans-serif' font-size="15" fill="#444">5.2</text>
<text x="533.5" y="1251.2" text-anchor="middle" font-family='"Liberation Sans", sans-serif' font-size="15" fill="#444">3.31</text>
<text x="537.9" y="1281.3" text-anchor="middle" font-family='"Liberation Sans", sans-serif' font-size="15" fill="#444">8.15</text>
<text x="535.1" y="1310.3" text-anchor="middle" font-family='"Liberation Sans", sans-serif' font-size="15" fill="#444">5.31</text>
<text x="516.6" y="1364.1" text-anchor="middle" font-family='"Liberation Sans", sans-serif' font-size="15" fill="#444">4.03</text>
<text x="556.4" y="1378.2" text-anchor="middle" font-family='"Liberation Sans", sans-serif' font-size="15" fill="#444">3.85</text>
<text x="521.4" y="1399.9" text-anchor="middle" font-family='"Liberation Sans", sans-serif' font-size="15" fill="#444">11.64</text>
<text x="534.3" y="1429.3" text-anchor="middle" font-family='"Liberation Sans", sans-serif' font-size="15" fill="#444">4.7</text>
<text x="521.4" y="1459" text-anchor="middle" font-family='"Liberation Sans", sans-serif' font-size="15" fill="#444">4.2</text>
<text x="561.6" y="1488.3" text-anchor="middle" font-family='"Liberation Sans", sans-serif' font-size="15" fill="#444">42.96</text>
<text x="544.7" y="1518.5" text-anchor="middle" font-family='"Liberation Sans", sans-serif' font-size="15" fill="#444">18.56</text>
<text x="525.4" y="1547.4" text-anchor="middle" font-family='"Liberation Sans", sans-serif' font-size="15" fill="#444">9.85</text>
<text x="523" y="1578" text-anchor="middle" font-family='"Liberation Sans", sans-serif' font-size="15" fill="#444">6.42</text>
<text x="536.3" y="1606.5" text-anchor="middle" font-family='"Liberation Sans", sans-serif' font-size="15" fill="#444">5.96</text>
<text x="522.2" y="1661.6" text-anchor="middle" font-family='"Liberation Sans", sans-serif' font-size="15" fill="#444">5.47</text>
<text x="543.5" y="1686.5" text-anchor="middle" font-family='"Liberation Sans", sans-serif' font-size="15" fill="#444">4.4</text>
</svg>
</body></html>
